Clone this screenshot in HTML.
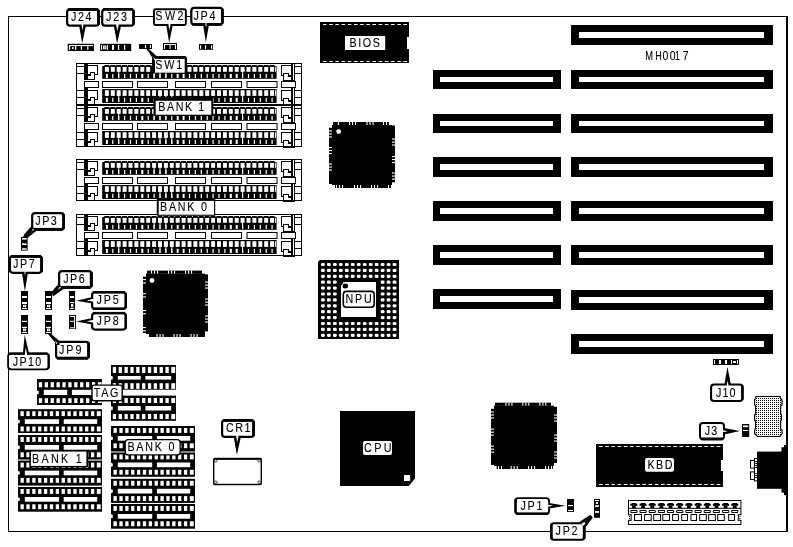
<!DOCTYPE html>
<html><head><meta charset="utf-8"><title>MH0017</title>
<style>
html,body{margin:0;padding:0;background:#fff;}
svg{display:block;filter:grayscale(1);}
text{font-family:"Liberation Sans",sans-serif;stroke:#000;stroke-width:0.1px;}
</style></head><body>
<svg width="793" height="547" viewBox="0 0 793 547">
<defs><pattern id="ht" x="0" y="0" width="2" height="2" patternUnits="userSpaceOnUse"><rect x="0" y="0" width="2" height="2" fill="#fff"/><rect x="0" y="0" width="1" height="1" fill="#000"/></pattern></defs>
<rect x="0" y="0" width="793" height="547" fill="#fff"/>
<rect x="8.5" y="16.5" width="779" height="515" rx="0" fill="none" stroke="#000" stroke-width="1"/>
<rect x="786" y="16" width="2" height="516" fill="#000" />
<rect x="571" y="25" width="202" height="20" fill="#000" />
<rect x="579" y="32" width="185" height="6" fill="#fff" />
<rect x="571" y="70" width="202" height="19" fill="#000" />
<rect x="579" y="77" width="185" height="5" fill="#fff" />
<rect x="571" y="114" width="202" height="19" fill="#000" />
<rect x="579" y="121" width="185" height="5" fill="#fff" />
<rect x="571" y="157" width="202" height="20" fill="#000" />
<rect x="579" y="164" width="185" height="6" fill="#fff" />
<rect x="571" y="201" width="202" height="20" fill="#000" />
<rect x="579" y="208" width="185" height="6" fill="#fff" />
<rect x="571" y="245" width="202" height="20" fill="#000" />
<rect x="579" y="252" width="185" height="6" fill="#fff" />
<rect x="571" y="290" width="202" height="20" fill="#000" />
<rect x="579" y="297" width="185" height="6" fill="#fff" />
<rect x="571" y="334" width="202" height="20" fill="#000" />
<rect x="579" y="341" width="185" height="6" fill="#fff" />
<rect x="433" y="70" width="128" height="19" fill="#000" />
<rect x="440" y="77" width="113" height="5" fill="#fff" />
<rect x="433" y="114" width="128" height="19" fill="#000" />
<rect x="440" y="121" width="113" height="5" fill="#fff" />
<rect x="433" y="157" width="128" height="20" fill="#000" />
<rect x="440" y="164" width="113" height="6" fill="#fff" />
<rect x="433" y="201" width="128" height="20" fill="#000" />
<rect x="440" y="208" width="113" height="6" fill="#fff" />
<rect x="433" y="245" width="128" height="20" fill="#000" />
<rect x="440" y="252" width="113" height="6" fill="#fff" />
<rect x="433" y="289" width="128" height="20" fill="#000" />
<rect x="440" y="296" width="113" height="6" fill="#fff" />
<rect x="76" y="63" width="226" height="1" fill="#000" />
<rect x="76" y="104" width="226" height="1" fill="#000" />
<rect x="76" y="63" width="1" height="42" fill="#000" />
<rect x="301" y="63" width="1" height="42" fill="#000" />
<rect x="76" y="66" width="8" height="1" fill="#000" />
<rect x="76" y="73" width="8" height="1" fill="#000" />
<rect x="76" y="90" width="8" height="1" fill="#000" />
<rect x="76" y="97" width="8" height="1" fill="#000" />
<rect x="84" y="63" width="4" height="17" fill="#000" />
<rect x="84" y="88" width="4" height="16" fill="#000" />
<rect x="291" y="63" width="2" height="41" fill="#000" />
<rect x="294" y="63" width="1" height="41" fill="#000" />
<rect x="293" y="64" width="1" height="1" fill="#fff" />
<rect x="294" y="66" width="8" height="1" fill="#000" />
<rect x="294" y="73" width="8" height="1" fill="#000" />
<rect x="294" y="90" width="8" height="1" fill="#000" />
<rect x="294" y="97" width="8" height="1" fill="#000" />
<rect x="102.2" y="66" width="174.4" height="12.8" fill="#000" />
<rect x="104.9" y="66.9" width="4" height="4.9" fill="#fff" />
<rect x="105.9" y="73.9" width="2" height="4.1" fill="#fff" />
<rect x="104.3" y="65" width="5.1" height="1" fill="#000" />
<rect x="110.8" y="66.9" width="4" height="4.9" fill="#fff" />
<rect x="112.2" y="73.9" width="1.2" height="4.1" fill="#fff" />
<rect x="110.2" y="65" width="5.1" height="1" fill="#000" />
<rect x="116.7" y="66.9" width="4" height="4.9" fill="#fff" />
<rect x="118.1" y="73.9" width="1.2" height="4.1" fill="#fff" />
<rect x="118.2" y="70.8" width="1" height="7.2" fill="#fff" />
<rect x="116.1" y="65" width="5.1" height="1" fill="#000" />
<rect x="122.6" y="66.9" width="4" height="4.9" fill="#fff" />
<rect x="124" y="73.9" width="1.2" height="4.1" fill="#fff" />
<rect x="122" y="65" width="5.1" height="1" fill="#000" />
<rect x="128.5" y="66.9" width="4" height="4.9" fill="#fff" />
<rect x="129.9" y="73.9" width="1.2" height="4.1" fill="#fff" />
<rect x="127.9" y="65" width="5.1" height="1" fill="#000" />
<rect x="134.4" y="66.9" width="4" height="4.9" fill="#fff" />
<rect x="135.8" y="73.9" width="1.2" height="4.1" fill="#fff" />
<rect x="133.8" y="65" width="5.1" height="1" fill="#000" />
<rect x="140.3" y="66.9" width="4" height="4.9" fill="#fff" />
<rect x="141.3" y="73.9" width="2" height="4.1" fill="#fff" />
<rect x="139.7" y="65" width="5.1" height="1" fill="#000" />
<rect x="146.2" y="66.9" width="4" height="4.9" fill="#fff" />
<rect x="147.6" y="73.9" width="1.2" height="4.1" fill="#fff" />
<rect x="145.6" y="65" width="5.1" height="1" fill="#000" />
<rect x="152.1" y="66.9" width="4" height="4.9" fill="#fff" />
<rect x="153.5" y="73.9" width="1.2" height="4.1" fill="#fff" />
<rect x="153.6" y="70.8" width="1" height="7.2" fill="#fff" />
<rect x="151.5" y="65" width="5.1" height="1" fill="#000" />
<rect x="158" y="66.9" width="4" height="4.9" fill="#fff" />
<rect x="159.4" y="73.9" width="1.2" height="4.1" fill="#fff" />
<rect x="159.5" y="70.8" width="1" height="7.2" fill="#fff" />
<rect x="157.4" y="65" width="5.1" height="1" fill="#000" />
<rect x="163.9" y="66.9" width="4" height="4.9" fill="#fff" />
<rect x="165.3" y="73.9" width="1.2" height="4.1" fill="#fff" />
<rect x="165.4" y="70.8" width="1" height="7.2" fill="#fff" />
<rect x="163.3" y="65" width="5.1" height="1" fill="#000" />
<rect x="169.8" y="66.9" width="4" height="4.9" fill="#fff" />
<rect x="171.2" y="73.9" width="1.2" height="4.1" fill="#fff" />
<rect x="169.2" y="65" width="5.1" height="1" fill="#000" />
<rect x="175.7" y="66.9" width="4" height="4.9" fill="#fff" />
<rect x="176.7" y="73.9" width="2" height="4.1" fill="#fff" />
<rect x="175.1" y="65" width="5.1" height="1" fill="#000" />
<rect x="181.6" y="66.9" width="4" height="4.9" fill="#fff" />
<rect x="182.6" y="73.9" width="2" height="4.1" fill="#fff" />
<rect x="181" y="65" width="5.1" height="1" fill="#000" />
<rect x="187.5" y="66.9" width="4" height="4.9" fill="#fff" />
<rect x="188.9" y="73.9" width="1.2" height="4.1" fill="#fff" />
<rect x="186.9" y="65" width="5.1" height="1" fill="#000" />
<rect x="193.4" y="66.9" width="4" height="4.9" fill="#fff" />
<rect x="194.8" y="73.9" width="1.2" height="4.1" fill="#fff" />
<rect x="192.8" y="65" width="5.1" height="1" fill="#000" />
<rect x="199.3" y="66.9" width="4" height="4.9" fill="#fff" />
<rect x="200.7" y="73.9" width="1.2" height="4.1" fill="#fff" />
<rect x="198.7" y="65" width="5.1" height="1" fill="#000" />
<rect x="205.2" y="66.9" width="4" height="4.9" fill="#fff" />
<rect x="206.6" y="73.9" width="1.2" height="4.1" fill="#fff" />
<rect x="204.6" y="65" width="5.1" height="1" fill="#000" />
<rect x="211.1" y="66.9" width="4" height="4.9" fill="#fff" />
<rect x="212.5" y="73.9" width="1.2" height="4.1" fill="#fff" />
<rect x="210.5" y="65" width="5.1" height="1" fill="#000" />
<rect x="217" y="66.9" width="4" height="4.9" fill="#fff" />
<rect x="218.4" y="73.9" width="1.2" height="4.1" fill="#fff" />
<rect x="216.4" y="65" width="5.1" height="1" fill="#000" />
<rect x="222.9" y="66.9" width="4" height="4.9" fill="#fff" />
<rect x="224.3" y="73.9" width="1.2" height="4.1" fill="#fff" />
<rect x="222.3" y="65" width="5.1" height="1" fill="#000" />
<rect x="228.8" y="66.9" width="4" height="4.9" fill="#fff" />
<rect x="229.8" y="73.9" width="2" height="4.1" fill="#fff" />
<rect x="228.2" y="65" width="5.1" height="1" fill="#000" />
<rect x="234.7" y="66.9" width="4" height="4.9" fill="#fff" />
<rect x="235.7" y="73.9" width="2" height="4.1" fill="#fff" />
<rect x="234.1" y="65" width="5.1" height="1" fill="#000" />
<rect x="240.6" y="66.9" width="4" height="4.9" fill="#fff" />
<rect x="242" y="73.9" width="1.2" height="4.1" fill="#fff" />
<rect x="242.1" y="70.8" width="1" height="7.2" fill="#fff" />
<rect x="240" y="65" width="5.1" height="1" fill="#000" />
<rect x="246.5" y="66.9" width="4" height="4.9" fill="#fff" />
<rect x="247.9" y="73.9" width="1.2" height="4.1" fill="#fff" />
<rect x="245.9" y="65" width="5.1" height="1" fill="#000" />
<rect x="252.4" y="66.9" width="4" height="4.9" fill="#fff" />
<rect x="253.8" y="73.9" width="1.2" height="4.1" fill="#fff" />
<rect x="251.8" y="65" width="5.1" height="1" fill="#000" />
<rect x="258.3" y="66.9" width="4" height="4.9" fill="#fff" />
<rect x="259.7" y="73.9" width="1.2" height="4.1" fill="#fff" />
<rect x="257.7" y="65" width="5.1" height="1" fill="#000" />
<rect x="264.2" y="66.9" width="4" height="4.9" fill="#fff" />
<rect x="265.6" y="73.9" width="1.2" height="4.1" fill="#fff" />
<rect x="263.6" y="65" width="5.1" height="1" fill="#000" />
<rect x="270.1" y="66.9" width="4" height="4.9" fill="#fff" />
<rect x="271.5" y="73.9" width="1.2" height="4.1" fill="#fff" />
<rect x="269.5" y="65" width="5.1" height="1" fill="#000" />
<rect x="275.1" y="66.9" width="1" height="4.9" fill="#fff" />
<rect x="102.2" y="89" width="174.4" height="14" fill="#000" />
<rect x="104.9" y="90.2" width="4" height="5.7" fill="#fff" />
<rect x="105.9" y="97.8" width="2" height="4.2" fill="#fff" />
<rect x="110.8" y="90.2" width="4" height="5.7" fill="#fff" />
<rect x="112.2" y="97.8" width="1.2" height="4.2" fill="#fff" />
<rect x="116.7" y="90.2" width="4" height="5.7" fill="#fff" />
<rect x="118.1" y="97.8" width="1.2" height="4.2" fill="#fff" />
<rect x="118.2" y="94.9" width="1" height="7.1" fill="#fff" />
<rect x="122.6" y="90.2" width="4" height="5.7" fill="#fff" />
<rect x="124" y="97.8" width="1.2" height="4.2" fill="#fff" />
<rect x="128.5" y="90.2" width="4" height="5.7" fill="#fff" />
<rect x="129.9" y="97.8" width="1.2" height="4.2" fill="#fff" />
<rect x="134.4" y="90.2" width="4" height="5.7" fill="#fff" />
<rect x="135.8" y="97.8" width="1.2" height="4.2" fill="#fff" />
<rect x="140.3" y="90.2" width="4" height="5.7" fill="#fff" />
<rect x="141.3" y="97.8" width="2" height="4.2" fill="#fff" />
<rect x="146.2" y="90.2" width="4" height="5.7" fill="#fff" />
<rect x="147.6" y="97.8" width="1.2" height="4.2" fill="#fff" />
<rect x="152.1" y="90.2" width="4" height="5.7" fill="#fff" />
<rect x="153.5" y="97.8" width="1.2" height="4.2" fill="#fff" />
<rect x="158" y="90.2" width="4" height="5.7" fill="#fff" />
<rect x="159.4" y="97.8" width="1.2" height="4.2" fill="#fff" />
<rect x="159.5" y="94.9" width="1" height="7.1" fill="#fff" />
<rect x="163.9" y="90.2" width="4" height="5.7" fill="#fff" />
<rect x="165.3" y="97.8" width="1.2" height="4.2" fill="#fff" />
<rect x="165.4" y="94.9" width="1" height="7.1" fill="#fff" />
<rect x="169.8" y="90.2" width="4" height="5.7" fill="#fff" />
<rect x="171.2" y="97.8" width="1.2" height="4.2" fill="#fff" />
<rect x="171.3" y="94.9" width="1" height="7.1" fill="#fff" />
<rect x="175.7" y="90.2" width="4" height="5.7" fill="#fff" />
<rect x="176.7" y="97.8" width="2" height="4.2" fill="#fff" />
<rect x="181.6" y="90.2" width="4" height="5.7" fill="#fff" />
<rect x="182.6" y="97.8" width="2" height="4.2" fill="#fff" />
<rect x="187.5" y="90.2" width="4" height="5.7" fill="#fff" />
<rect x="188.9" y="97.8" width="1.2" height="4.2" fill="#fff" />
<rect x="193.4" y="90.2" width="4" height="5.7" fill="#fff" />
<rect x="194.8" y="97.8" width="1.2" height="4.2" fill="#fff" />
<rect x="199.3" y="90.2" width="4" height="5.7" fill="#fff" />
<rect x="200.7" y="97.8" width="1.2" height="4.2" fill="#fff" />
<rect x="205.2" y="90.2" width="4" height="5.7" fill="#fff" />
<rect x="206.6" y="97.8" width="1.2" height="4.2" fill="#fff" />
<rect x="211.1" y="90.2" width="4" height="5.7" fill="#fff" />
<rect x="212.5" y="97.8" width="1.2" height="4.2" fill="#fff" />
<rect x="217" y="90.2" width="4" height="5.7" fill="#fff" />
<rect x="218.4" y="97.8" width="1.2" height="4.2" fill="#fff" />
<rect x="222.9" y="90.2" width="4" height="5.7" fill="#fff" />
<rect x="224.3" y="97.8" width="1.2" height="4.2" fill="#fff" />
<rect x="228.8" y="90.2" width="4" height="5.7" fill="#fff" />
<rect x="229.8" y="97.8" width="2" height="4.2" fill="#fff" />
<rect x="234.7" y="90.2" width="4" height="5.7" fill="#fff" />
<rect x="235.7" y="97.8" width="2" height="4.2" fill="#fff" />
<rect x="240.6" y="90.2" width="4" height="5.7" fill="#fff" />
<rect x="242" y="97.8" width="1.2" height="4.2" fill="#fff" />
<rect x="242.1" y="94.9" width="1" height="7.1" fill="#fff" />
<rect x="246.5" y="90.2" width="4" height="5.7" fill="#fff" />
<rect x="247.9" y="97.8" width="1.2" height="4.2" fill="#fff" />
<rect x="252.4" y="90.2" width="4" height="5.7" fill="#fff" />
<rect x="253.8" y="97.8" width="1.2" height="4.2" fill="#fff" />
<rect x="258.3" y="90.2" width="4" height="5.7" fill="#fff" />
<rect x="259.7" y="97.8" width="1.2" height="4.2" fill="#fff" />
<rect x="264.2" y="90.2" width="4" height="5.7" fill="#fff" />
<rect x="265.6" y="97.8" width="1.2" height="4.2" fill="#fff" />
<rect x="270.1" y="90.2" width="4" height="5.7" fill="#fff" />
<rect x="271.5" y="97.8" width="1.2" height="4.2" fill="#fff" />
<rect x="275.1" y="90.2" width="1" height="5.7" fill="#fff" />
<rect x="88" y="65" width="10" height="1" fill="#000" />
<rect x="97" y="65" width="1" height="10" fill="#000" />
<rect x="94" y="74" width="4" height="1" fill="#000" />
<rect x="94" y="72" width="1" height="8" fill="#000" />
<rect x="90" y="72" width="5" height="1" fill="#000" />
<rect x="90" y="72" width="1" height="3" fill="#000" />
<rect x="88" y="74" width="3" height="2" fill="#000" />
<rect x="84" y="79" width="11" height="1" fill="#000" />
<rect x="88" y="90" width="10" height="1" fill="#000" />
<rect x="97" y="90" width="1" height="10" fill="#000" />
<rect x="94" y="99" width="4" height="1" fill="#000" />
<rect x="94" y="97" width="1" height="8" fill="#000" />
<rect x="90" y="97" width="5" height="1" fill="#000" />
<rect x="90" y="97" width="1" height="3" fill="#000" />
<rect x="88" y="99" width="3" height="2" fill="#000" />
<rect x="84" y="104" width="11" height="1" fill="#000" />
<rect x="281" y="65" width="10" height="1" fill="#000" />
<rect x="281" y="65" width="1" height="11" fill="#000" />
<rect x="281" y="75" width="3" height="1" fill="#000" />
<rect x="283" y="73" width="1" height="8" fill="#000" />
<rect x="283" y="73" width="6" height="1" fill="#000" />
<rect x="288" y="73" width="1" height="3" fill="#000" />
<rect x="288" y="75" width="3" height="2" fill="#000" />
<rect x="283" y="80" width="12" height="1" fill="#000" />
<rect x="281" y="90" width="10" height="1" fill="#000" />
<rect x="281" y="90" width="1" height="11" fill="#000" />
<rect x="281" y="100" width="3" height="1" fill="#000" />
<rect x="283" y="98" width="1" height="8" fill="#000" />
<rect x="283" y="98" width="6" height="1" fill="#000" />
<rect x="288" y="98" width="1" height="3" fill="#000" />
<rect x="288" y="100" width="3" height="2" fill="#000" />
<rect x="283" y="105" width="12" height="1" fill="#000" />
<rect x="84.5" y="81.5" width="14" height="6" rx="0" fill="#fff" stroke="#000" stroke-width="1"/>
<rect x="281.5" y="81.5" width="14" height="6" rx="0" fill="#fff" stroke="#000" stroke-width="1"/>
<rect x="102.5" y="81.5" width="30" height="6" rx="0" fill="#fff" stroke="#000" stroke-width="1"/>
<rect x="137.5" y="81.5" width="30" height="6" rx="0" fill="#fff" stroke="#000" stroke-width="1"/>
<rect x="175.5" y="81.5" width="30" height="6" rx="0" fill="#fff" stroke="#000" stroke-width="1"/>
<rect x="211.5" y="81.5" width="30" height="6" rx="0" fill="#fff" stroke="#000" stroke-width="1"/>
<rect x="247" y="81.5" width="30" height="6" rx="0" fill="#fff" stroke="#000" stroke-width="1"/>
<rect x="76" y="105" width="226" height="1" fill="#000" />
<rect x="76" y="146" width="226" height="1" fill="#000" />
<rect x="76" y="105" width="1" height="42" fill="#000" />
<rect x="301" y="105" width="1" height="42" fill="#000" />
<rect x="76" y="108" width="8" height="1" fill="#000" />
<rect x="76" y="115" width="8" height="1" fill="#000" />
<rect x="76" y="132" width="8" height="1" fill="#000" />
<rect x="76" y="139" width="8" height="1" fill="#000" />
<rect x="84" y="105" width="4" height="17" fill="#000" />
<rect x="84" y="130" width="4" height="16" fill="#000" />
<rect x="291" y="105" width="2" height="41" fill="#000" />
<rect x="294" y="105" width="1" height="41" fill="#000" />
<rect x="293" y="106" width="1" height="1" fill="#fff" />
<rect x="294" y="108" width="8" height="1" fill="#000" />
<rect x="294" y="115" width="8" height="1" fill="#000" />
<rect x="294" y="132" width="8" height="1" fill="#000" />
<rect x="294" y="139" width="8" height="1" fill="#000" />
<rect x="102.2" y="108" width="174.4" height="12.8" fill="#000" />
<rect x="104.9" y="108.9" width="4" height="4.9" fill="#fff" />
<rect x="105.9" y="115.9" width="2" height="4.1" fill="#fff" />
<rect x="104.3" y="107" width="5.1" height="1" fill="#000" />
<rect x="110.8" y="108.9" width="4" height="4.9" fill="#fff" />
<rect x="112.2" y="115.9" width="1.2" height="4.1" fill="#fff" />
<rect x="110.2" y="107" width="5.1" height="1" fill="#000" />
<rect x="116.7" y="108.9" width="4" height="4.9" fill="#fff" />
<rect x="118.1" y="115.9" width="1.2" height="4.1" fill="#fff" />
<rect x="118.2" y="112.8" width="1" height="7.2" fill="#fff" />
<rect x="116.1" y="107" width="5.1" height="1" fill="#000" />
<rect x="122.6" y="108.9" width="4" height="4.9" fill="#fff" />
<rect x="124" y="115.9" width="1.2" height="4.1" fill="#fff" />
<rect x="122" y="107" width="5.1" height="1" fill="#000" />
<rect x="128.5" y="108.9" width="4" height="4.9" fill="#fff" />
<rect x="129.9" y="115.9" width="1.2" height="4.1" fill="#fff" />
<rect x="127.9" y="107" width="5.1" height="1" fill="#000" />
<rect x="134.4" y="108.9" width="4" height="4.9" fill="#fff" />
<rect x="135.8" y="115.9" width="1.2" height="4.1" fill="#fff" />
<rect x="133.8" y="107" width="5.1" height="1" fill="#000" />
<rect x="140.3" y="108.9" width="4" height="4.9" fill="#fff" />
<rect x="141.3" y="115.9" width="2" height="4.1" fill="#fff" />
<rect x="139.7" y="107" width="5.1" height="1" fill="#000" />
<rect x="146.2" y="108.9" width="4" height="4.9" fill="#fff" />
<rect x="147.6" y="115.9" width="1.2" height="4.1" fill="#fff" />
<rect x="145.6" y="107" width="5.1" height="1" fill="#000" />
<rect x="152.1" y="108.9" width="4" height="4.9" fill="#fff" />
<rect x="153.5" y="115.9" width="1.2" height="4.1" fill="#fff" />
<rect x="153.6" y="112.8" width="1" height="7.2" fill="#fff" />
<rect x="151.5" y="107" width="5.1" height="1" fill="#000" />
<rect x="158" y="108.9" width="4" height="4.9" fill="#fff" />
<rect x="159.4" y="115.9" width="1.2" height="4.1" fill="#fff" />
<rect x="159.5" y="112.8" width="1" height="7.2" fill="#fff" />
<rect x="157.4" y="107" width="5.1" height="1" fill="#000" />
<rect x="163.9" y="108.9" width="4" height="4.9" fill="#fff" />
<rect x="165.3" y="115.9" width="1.2" height="4.1" fill="#fff" />
<rect x="165.4" y="112.8" width="1" height="7.2" fill="#fff" />
<rect x="163.3" y="107" width="5.1" height="1" fill="#000" />
<rect x="169.8" y="108.9" width="4" height="4.9" fill="#fff" />
<rect x="171.2" y="115.9" width="1.2" height="4.1" fill="#fff" />
<rect x="169.2" y="107" width="5.1" height="1" fill="#000" />
<rect x="175.7" y="108.9" width="4" height="4.9" fill="#fff" />
<rect x="176.7" y="115.9" width="2" height="4.1" fill="#fff" />
<rect x="175.1" y="107" width="5.1" height="1" fill="#000" />
<rect x="181.6" y="108.9" width="4" height="4.9" fill="#fff" />
<rect x="182.6" y="115.9" width="2" height="4.1" fill="#fff" />
<rect x="181" y="107" width="5.1" height="1" fill="#000" />
<rect x="187.5" y="108.9" width="4" height="4.9" fill="#fff" />
<rect x="188.9" y="115.9" width="1.2" height="4.1" fill="#fff" />
<rect x="186.9" y="107" width="5.1" height="1" fill="#000" />
<rect x="193.4" y="108.9" width="4" height="4.9" fill="#fff" />
<rect x="194.8" y="115.9" width="1.2" height="4.1" fill="#fff" />
<rect x="192.8" y="107" width="5.1" height="1" fill="#000" />
<rect x="199.3" y="108.9" width="4" height="4.9" fill="#fff" />
<rect x="200.7" y="115.9" width="1.2" height="4.1" fill="#fff" />
<rect x="198.7" y="107" width="5.1" height="1" fill="#000" />
<rect x="205.2" y="108.9" width="4" height="4.9" fill="#fff" />
<rect x="206.6" y="115.9" width="1.2" height="4.1" fill="#fff" />
<rect x="204.6" y="107" width="5.1" height="1" fill="#000" />
<rect x="211.1" y="108.9" width="4" height="4.9" fill="#fff" />
<rect x="212.5" y="115.9" width="1.2" height="4.1" fill="#fff" />
<rect x="210.5" y="107" width="5.1" height="1" fill="#000" />
<rect x="217" y="108.9" width="4" height="4.9" fill="#fff" />
<rect x="218.4" y="115.9" width="1.2" height="4.1" fill="#fff" />
<rect x="216.4" y="107" width="5.1" height="1" fill="#000" />
<rect x="222.9" y="108.9" width="4" height="4.9" fill="#fff" />
<rect x="224.3" y="115.9" width="1.2" height="4.1" fill="#fff" />
<rect x="222.3" y="107" width="5.1" height="1" fill="#000" />
<rect x="228.8" y="108.9" width="4" height="4.9" fill="#fff" />
<rect x="229.8" y="115.9" width="2" height="4.1" fill="#fff" />
<rect x="228.2" y="107" width="5.1" height="1" fill="#000" />
<rect x="234.7" y="108.9" width="4" height="4.9" fill="#fff" />
<rect x="235.7" y="115.9" width="2" height="4.1" fill="#fff" />
<rect x="234.1" y="107" width="5.1" height="1" fill="#000" />
<rect x="240.6" y="108.9" width="4" height="4.9" fill="#fff" />
<rect x="242" y="115.9" width="1.2" height="4.1" fill="#fff" />
<rect x="242.1" y="112.8" width="1" height="7.2" fill="#fff" />
<rect x="240" y="107" width="5.1" height="1" fill="#000" />
<rect x="246.5" y="108.9" width="4" height="4.9" fill="#fff" />
<rect x="247.9" y="115.9" width="1.2" height="4.1" fill="#fff" />
<rect x="245.9" y="107" width="5.1" height="1" fill="#000" />
<rect x="252.4" y="108.9" width="4" height="4.9" fill="#fff" />
<rect x="253.8" y="115.9" width="1.2" height="4.1" fill="#fff" />
<rect x="251.8" y="107" width="5.1" height="1" fill="#000" />
<rect x="258.3" y="108.9" width="4" height="4.9" fill="#fff" />
<rect x="259.7" y="115.9" width="1.2" height="4.1" fill="#fff" />
<rect x="257.7" y="107" width="5.1" height="1" fill="#000" />
<rect x="264.2" y="108.9" width="4" height="4.9" fill="#fff" />
<rect x="265.6" y="115.9" width="1.2" height="4.1" fill="#fff" />
<rect x="263.6" y="107" width="5.1" height="1" fill="#000" />
<rect x="270.1" y="108.9" width="4" height="4.9" fill="#fff" />
<rect x="271.5" y="115.9" width="1.2" height="4.1" fill="#fff" />
<rect x="269.5" y="107" width="5.1" height="1" fill="#000" />
<rect x="275.1" y="108.9" width="1" height="4.9" fill="#fff" />
<rect x="102.2" y="131" width="174.4" height="14" fill="#000" />
<rect x="104.9" y="132.2" width="4" height="5.7" fill="#fff" />
<rect x="105.9" y="139.8" width="2" height="4.2" fill="#fff" />
<rect x="110.8" y="132.2" width="4" height="5.7" fill="#fff" />
<rect x="112.2" y="139.8" width="1.2" height="4.2" fill="#fff" />
<rect x="116.7" y="132.2" width="4" height="5.7" fill="#fff" />
<rect x="118.1" y="139.8" width="1.2" height="4.2" fill="#fff" />
<rect x="118.2" y="136.9" width="1" height="7.1" fill="#fff" />
<rect x="122.6" y="132.2" width="4" height="5.7" fill="#fff" />
<rect x="124" y="139.8" width="1.2" height="4.2" fill="#fff" />
<rect x="128.5" y="132.2" width="4" height="5.7" fill="#fff" />
<rect x="129.9" y="139.8" width="1.2" height="4.2" fill="#fff" />
<rect x="134.4" y="132.2" width="4" height="5.7" fill="#fff" />
<rect x="135.8" y="139.8" width="1.2" height="4.2" fill="#fff" />
<rect x="140.3" y="132.2" width="4" height="5.7" fill="#fff" />
<rect x="141.3" y="139.8" width="2" height="4.2" fill="#fff" />
<rect x="146.2" y="132.2" width="4" height="5.7" fill="#fff" />
<rect x="147.6" y="139.8" width="1.2" height="4.2" fill="#fff" />
<rect x="152.1" y="132.2" width="4" height="5.7" fill="#fff" />
<rect x="153.5" y="139.8" width="1.2" height="4.2" fill="#fff" />
<rect x="158" y="132.2" width="4" height="5.7" fill="#fff" />
<rect x="159.4" y="139.8" width="1.2" height="4.2" fill="#fff" />
<rect x="159.5" y="136.9" width="1" height="7.1" fill="#fff" />
<rect x="163.9" y="132.2" width="4" height="5.7" fill="#fff" />
<rect x="165.3" y="139.8" width="1.2" height="4.2" fill="#fff" />
<rect x="165.4" y="136.9" width="1" height="7.1" fill="#fff" />
<rect x="169.8" y="132.2" width="4" height="5.7" fill="#fff" />
<rect x="171.2" y="139.8" width="1.2" height="4.2" fill="#fff" />
<rect x="171.3" y="136.9" width="1" height="7.1" fill="#fff" />
<rect x="175.7" y="132.2" width="4" height="5.7" fill="#fff" />
<rect x="176.7" y="139.8" width="2" height="4.2" fill="#fff" />
<rect x="181.6" y="132.2" width="4" height="5.7" fill="#fff" />
<rect x="182.6" y="139.8" width="2" height="4.2" fill="#fff" />
<rect x="187.5" y="132.2" width="4" height="5.7" fill="#fff" />
<rect x="188.9" y="139.8" width="1.2" height="4.2" fill="#fff" />
<rect x="193.4" y="132.2" width="4" height="5.7" fill="#fff" />
<rect x="194.8" y="139.8" width="1.2" height="4.2" fill="#fff" />
<rect x="199.3" y="132.2" width="4" height="5.7" fill="#fff" />
<rect x="200.7" y="139.8" width="1.2" height="4.2" fill="#fff" />
<rect x="205.2" y="132.2" width="4" height="5.7" fill="#fff" />
<rect x="206.6" y="139.8" width="1.2" height="4.2" fill="#fff" />
<rect x="211.1" y="132.2" width="4" height="5.7" fill="#fff" />
<rect x="212.5" y="139.8" width="1.2" height="4.2" fill="#fff" />
<rect x="217" y="132.2" width="4" height="5.7" fill="#fff" />
<rect x="218.4" y="139.8" width="1.2" height="4.2" fill="#fff" />
<rect x="222.9" y="132.2" width="4" height="5.7" fill="#fff" />
<rect x="224.3" y="139.8" width="1.2" height="4.2" fill="#fff" />
<rect x="228.8" y="132.2" width="4" height="5.7" fill="#fff" />
<rect x="229.8" y="139.8" width="2" height="4.2" fill="#fff" />
<rect x="234.7" y="132.2" width="4" height="5.7" fill="#fff" />
<rect x="235.7" y="139.8" width="2" height="4.2" fill="#fff" />
<rect x="240.6" y="132.2" width="4" height="5.7" fill="#fff" />
<rect x="242" y="139.8" width="1.2" height="4.2" fill="#fff" />
<rect x="242.1" y="136.9" width="1" height="7.1" fill="#fff" />
<rect x="246.5" y="132.2" width="4" height="5.7" fill="#fff" />
<rect x="247.9" y="139.8" width="1.2" height="4.2" fill="#fff" />
<rect x="252.4" y="132.2" width="4" height="5.7" fill="#fff" />
<rect x="253.8" y="139.8" width="1.2" height="4.2" fill="#fff" />
<rect x="258.3" y="132.2" width="4" height="5.7" fill="#fff" />
<rect x="259.7" y="139.8" width="1.2" height="4.2" fill="#fff" />
<rect x="264.2" y="132.2" width="4" height="5.7" fill="#fff" />
<rect x="265.6" y="139.8" width="1.2" height="4.2" fill="#fff" />
<rect x="270.1" y="132.2" width="4" height="5.7" fill="#fff" />
<rect x="271.5" y="139.8" width="1.2" height="4.2" fill="#fff" />
<rect x="275.1" y="132.2" width="1" height="5.7" fill="#fff" />
<rect x="88" y="107" width="10" height="1" fill="#000" />
<rect x="97" y="107" width="1" height="10" fill="#000" />
<rect x="94" y="116" width="4" height="1" fill="#000" />
<rect x="94" y="114" width="1" height="8" fill="#000" />
<rect x="90" y="114" width="5" height="1" fill="#000" />
<rect x="90" y="114" width="1" height="3" fill="#000" />
<rect x="88" y="116" width="3" height="2" fill="#000" />
<rect x="84" y="121" width="11" height="1" fill="#000" />
<rect x="88" y="132" width="10" height="1" fill="#000" />
<rect x="97" y="132" width="1" height="10" fill="#000" />
<rect x="94" y="141" width="4" height="1" fill="#000" />
<rect x="94" y="139" width="1" height="8" fill="#000" />
<rect x="90" y="139" width="5" height="1" fill="#000" />
<rect x="90" y="139" width="1" height="3" fill="#000" />
<rect x="88" y="141" width="3" height="2" fill="#000" />
<rect x="84" y="146" width="11" height="1" fill="#000" />
<rect x="281" y="107" width="10" height="1" fill="#000" />
<rect x="281" y="107" width="1" height="11" fill="#000" />
<rect x="281" y="117" width="3" height="1" fill="#000" />
<rect x="283" y="115" width="1" height="8" fill="#000" />
<rect x="283" y="115" width="6" height="1" fill="#000" />
<rect x="288" y="115" width="1" height="3" fill="#000" />
<rect x="288" y="117" width="3" height="2" fill="#000" />
<rect x="283" y="122" width="12" height="1" fill="#000" />
<rect x="281" y="132" width="10" height="1" fill="#000" />
<rect x="281" y="132" width="1" height="11" fill="#000" />
<rect x="281" y="142" width="3" height="1" fill="#000" />
<rect x="283" y="140" width="1" height="8" fill="#000" />
<rect x="283" y="140" width="6" height="1" fill="#000" />
<rect x="288" y="140" width="1" height="3" fill="#000" />
<rect x="288" y="142" width="3" height="2" fill="#000" />
<rect x="283" y="147" width="12" height="1" fill="#000" />
<rect x="84.5" y="123.5" width="14" height="6" rx="0" fill="#fff" stroke="#000" stroke-width="1"/>
<rect x="281.5" y="123.5" width="14" height="6" rx="0" fill="#fff" stroke="#000" stroke-width="1"/>
<rect x="102.5" y="123.5" width="30" height="6" rx="0" fill="#fff" stroke="#000" stroke-width="1"/>
<rect x="137.5" y="123.5" width="30" height="6" rx="0" fill="#fff" stroke="#000" stroke-width="1"/>
<rect x="175.5" y="123.5" width="30" height="6" rx="0" fill="#fff" stroke="#000" stroke-width="1"/>
<rect x="211.5" y="123.5" width="30" height="6" rx="0" fill="#fff" stroke="#000" stroke-width="1"/>
<rect x="247" y="123.5" width="30" height="6" rx="0" fill="#fff" stroke="#000" stroke-width="1"/>
<rect x="76" y="159" width="226" height="1" fill="#000" />
<rect x="76" y="200" width="226" height="1" fill="#000" />
<rect x="76" y="159" width="1" height="42" fill="#000" />
<rect x="301" y="159" width="1" height="42" fill="#000" />
<rect x="76" y="162" width="8" height="1" fill="#000" />
<rect x="76" y="169" width="8" height="1" fill="#000" />
<rect x="76" y="186" width="8" height="1" fill="#000" />
<rect x="76" y="193" width="8" height="1" fill="#000" />
<rect x="84" y="159" width="4" height="17" fill="#000" />
<rect x="84" y="184" width="4" height="16" fill="#000" />
<rect x="291" y="159" width="2" height="41" fill="#000" />
<rect x="294" y="159" width="1" height="41" fill="#000" />
<rect x="293" y="160" width="1" height="1" fill="#fff" />
<rect x="294" y="162" width="8" height="1" fill="#000" />
<rect x="294" y="169" width="8" height="1" fill="#000" />
<rect x="294" y="186" width="8" height="1" fill="#000" />
<rect x="294" y="193" width="8" height="1" fill="#000" />
<rect x="102.2" y="162" width="174.4" height="12.8" fill="#000" />
<rect x="104.9" y="162.9" width="4" height="4.9" fill="#fff" />
<rect x="105.9" y="169.9" width="2" height="4.1" fill="#fff" />
<rect x="104.3" y="161" width="5.1" height="1" fill="#000" />
<rect x="110.8" y="162.9" width="4" height="4.9" fill="#fff" />
<rect x="112.2" y="169.9" width="1.2" height="4.1" fill="#fff" />
<rect x="110.2" y="161" width="5.1" height="1" fill="#000" />
<rect x="116.7" y="162.9" width="4" height="4.9" fill="#fff" />
<rect x="118.1" y="169.9" width="1.2" height="4.1" fill="#fff" />
<rect x="118.2" y="166.8" width="1" height="7.2" fill="#fff" />
<rect x="116.1" y="161" width="5.1" height="1" fill="#000" />
<rect x="122.6" y="162.9" width="4" height="4.9" fill="#fff" />
<rect x="124" y="169.9" width="1.2" height="4.1" fill="#fff" />
<rect x="122" y="161" width="5.1" height="1" fill="#000" />
<rect x="128.5" y="162.9" width="4" height="4.9" fill="#fff" />
<rect x="129.9" y="169.9" width="1.2" height="4.1" fill="#fff" />
<rect x="127.9" y="161" width="5.1" height="1" fill="#000" />
<rect x="134.4" y="162.9" width="4" height="4.9" fill="#fff" />
<rect x="135.8" y="169.9" width="1.2" height="4.1" fill="#fff" />
<rect x="133.8" y="161" width="5.1" height="1" fill="#000" />
<rect x="140.3" y="162.9" width="4" height="4.9" fill="#fff" />
<rect x="141.3" y="169.9" width="2" height="4.1" fill="#fff" />
<rect x="139.7" y="161" width="5.1" height="1" fill="#000" />
<rect x="146.2" y="162.9" width="4" height="4.9" fill="#fff" />
<rect x="147.6" y="169.9" width="1.2" height="4.1" fill="#fff" />
<rect x="145.6" y="161" width="5.1" height="1" fill="#000" />
<rect x="152.1" y="162.9" width="4" height="4.9" fill="#fff" />
<rect x="153.5" y="169.9" width="1.2" height="4.1" fill="#fff" />
<rect x="153.6" y="166.8" width="1" height="7.2" fill="#fff" />
<rect x="151.5" y="161" width="5.1" height="1" fill="#000" />
<rect x="158" y="162.9" width="4" height="4.9" fill="#fff" />
<rect x="159.4" y="169.9" width="1.2" height="4.1" fill="#fff" />
<rect x="159.5" y="166.8" width="1" height="7.2" fill="#fff" />
<rect x="157.4" y="161" width="5.1" height="1" fill="#000" />
<rect x="163.9" y="162.9" width="4" height="4.9" fill="#fff" />
<rect x="165.3" y="169.9" width="1.2" height="4.1" fill="#fff" />
<rect x="165.4" y="166.8" width="1" height="7.2" fill="#fff" />
<rect x="163.3" y="161" width="5.1" height="1" fill="#000" />
<rect x="169.8" y="162.9" width="4" height="4.9" fill="#fff" />
<rect x="171.2" y="169.9" width="1.2" height="4.1" fill="#fff" />
<rect x="169.2" y="161" width="5.1" height="1" fill="#000" />
<rect x="175.7" y="162.9" width="4" height="4.9" fill="#fff" />
<rect x="176.7" y="169.9" width="2" height="4.1" fill="#fff" />
<rect x="175.1" y="161" width="5.1" height="1" fill="#000" />
<rect x="181.6" y="162.9" width="4" height="4.9" fill="#fff" />
<rect x="182.6" y="169.9" width="2" height="4.1" fill="#fff" />
<rect x="181" y="161" width="5.1" height="1" fill="#000" />
<rect x="187.5" y="162.9" width="4" height="4.9" fill="#fff" />
<rect x="188.9" y="169.9" width="1.2" height="4.1" fill="#fff" />
<rect x="186.9" y="161" width="5.1" height="1" fill="#000" />
<rect x="193.4" y="162.9" width="4" height="4.9" fill="#fff" />
<rect x="194.8" y="169.9" width="1.2" height="4.1" fill="#fff" />
<rect x="192.8" y="161" width="5.1" height="1" fill="#000" />
<rect x="199.3" y="162.9" width="4" height="4.9" fill="#fff" />
<rect x="200.7" y="169.9" width="1.2" height="4.1" fill="#fff" />
<rect x="198.7" y="161" width="5.1" height="1" fill="#000" />
<rect x="205.2" y="162.9" width="4" height="4.9" fill="#fff" />
<rect x="206.6" y="169.9" width="1.2" height="4.1" fill="#fff" />
<rect x="204.6" y="161" width="5.1" height="1" fill="#000" />
<rect x="211.1" y="162.9" width="4" height="4.9" fill="#fff" />
<rect x="212.5" y="169.9" width="1.2" height="4.1" fill="#fff" />
<rect x="210.5" y="161" width="5.1" height="1" fill="#000" />
<rect x="217" y="162.9" width="4" height="4.9" fill="#fff" />
<rect x="218.4" y="169.9" width="1.2" height="4.1" fill="#fff" />
<rect x="216.4" y="161" width="5.1" height="1" fill="#000" />
<rect x="222.9" y="162.9" width="4" height="4.9" fill="#fff" />
<rect x="224.3" y="169.9" width="1.2" height="4.1" fill="#fff" />
<rect x="222.3" y="161" width="5.1" height="1" fill="#000" />
<rect x="228.8" y="162.9" width="4" height="4.9" fill="#fff" />
<rect x="229.8" y="169.9" width="2" height="4.1" fill="#fff" />
<rect x="228.2" y="161" width="5.1" height="1" fill="#000" />
<rect x="234.7" y="162.9" width="4" height="4.9" fill="#fff" />
<rect x="235.7" y="169.9" width="2" height="4.1" fill="#fff" />
<rect x="234.1" y="161" width="5.1" height="1" fill="#000" />
<rect x="240.6" y="162.9" width="4" height="4.9" fill="#fff" />
<rect x="242" y="169.9" width="1.2" height="4.1" fill="#fff" />
<rect x="242.1" y="166.8" width="1" height="7.2" fill="#fff" />
<rect x="240" y="161" width="5.1" height="1" fill="#000" />
<rect x="246.5" y="162.9" width="4" height="4.9" fill="#fff" />
<rect x="247.9" y="169.9" width="1.2" height="4.1" fill="#fff" />
<rect x="245.9" y="161" width="5.1" height="1" fill="#000" />
<rect x="252.4" y="162.9" width="4" height="4.9" fill="#fff" />
<rect x="253.8" y="169.9" width="1.2" height="4.1" fill="#fff" />
<rect x="251.8" y="161" width="5.1" height="1" fill="#000" />
<rect x="258.3" y="162.9" width="4" height="4.9" fill="#fff" />
<rect x="259.7" y="169.9" width="1.2" height="4.1" fill="#fff" />
<rect x="257.7" y="161" width="5.1" height="1" fill="#000" />
<rect x="264.2" y="162.9" width="4" height="4.9" fill="#fff" />
<rect x="265.6" y="169.9" width="1.2" height="4.1" fill="#fff" />
<rect x="263.6" y="161" width="5.1" height="1" fill="#000" />
<rect x="270.1" y="162.9" width="4" height="4.9" fill="#fff" />
<rect x="271.5" y="169.9" width="1.2" height="4.1" fill="#fff" />
<rect x="269.5" y="161" width="5.1" height="1" fill="#000" />
<rect x="275.1" y="162.9" width="1" height="4.9" fill="#fff" />
<rect x="102.2" y="185" width="174.4" height="14" fill="#000" />
<rect x="104.9" y="186.2" width="4" height="5.7" fill="#fff" />
<rect x="105.9" y="193.8" width="2" height="4.2" fill="#fff" />
<rect x="110.8" y="186.2" width="4" height="5.7" fill="#fff" />
<rect x="112.2" y="193.8" width="1.2" height="4.2" fill="#fff" />
<rect x="116.7" y="186.2" width="4" height="5.7" fill="#fff" />
<rect x="118.1" y="193.8" width="1.2" height="4.2" fill="#fff" />
<rect x="118.2" y="190.9" width="1" height="7.1" fill="#fff" />
<rect x="122.6" y="186.2" width="4" height="5.7" fill="#fff" />
<rect x="124" y="193.8" width="1.2" height="4.2" fill="#fff" />
<rect x="128.5" y="186.2" width="4" height="5.7" fill="#fff" />
<rect x="129.9" y="193.8" width="1.2" height="4.2" fill="#fff" />
<rect x="134.4" y="186.2" width="4" height="5.7" fill="#fff" />
<rect x="135.8" y="193.8" width="1.2" height="4.2" fill="#fff" />
<rect x="140.3" y="186.2" width="4" height="5.7" fill="#fff" />
<rect x="141.3" y="193.8" width="2" height="4.2" fill="#fff" />
<rect x="146.2" y="186.2" width="4" height="5.7" fill="#fff" />
<rect x="147.6" y="193.8" width="1.2" height="4.2" fill="#fff" />
<rect x="152.1" y="186.2" width="4" height="5.7" fill="#fff" />
<rect x="153.5" y="193.8" width="1.2" height="4.2" fill="#fff" />
<rect x="158" y="186.2" width="4" height="5.7" fill="#fff" />
<rect x="159.4" y="193.8" width="1.2" height="4.2" fill="#fff" />
<rect x="159.5" y="190.9" width="1" height="7.1" fill="#fff" />
<rect x="163.9" y="186.2" width="4" height="5.7" fill="#fff" />
<rect x="165.3" y="193.8" width="1.2" height="4.2" fill="#fff" />
<rect x="165.4" y="190.9" width="1" height="7.1" fill="#fff" />
<rect x="169.8" y="186.2" width="4" height="5.7" fill="#fff" />
<rect x="171.2" y="193.8" width="1.2" height="4.2" fill="#fff" />
<rect x="171.3" y="190.9" width="1" height="7.1" fill="#fff" />
<rect x="175.7" y="186.2" width="4" height="5.7" fill="#fff" />
<rect x="176.7" y="193.8" width="2" height="4.2" fill="#fff" />
<rect x="181.6" y="186.2" width="4" height="5.7" fill="#fff" />
<rect x="182.6" y="193.8" width="2" height="4.2" fill="#fff" />
<rect x="187.5" y="186.2" width="4" height="5.7" fill="#fff" />
<rect x="188.9" y="193.8" width="1.2" height="4.2" fill="#fff" />
<rect x="193.4" y="186.2" width="4" height="5.7" fill="#fff" />
<rect x="194.8" y="193.8" width="1.2" height="4.2" fill="#fff" />
<rect x="199.3" y="186.2" width="4" height="5.7" fill="#fff" />
<rect x="200.7" y="193.8" width="1.2" height="4.2" fill="#fff" />
<rect x="205.2" y="186.2" width="4" height="5.7" fill="#fff" />
<rect x="206.6" y="193.8" width="1.2" height="4.2" fill="#fff" />
<rect x="211.1" y="186.2" width="4" height="5.7" fill="#fff" />
<rect x="212.5" y="193.8" width="1.2" height="4.2" fill="#fff" />
<rect x="217" y="186.2" width="4" height="5.7" fill="#fff" />
<rect x="218.4" y="193.8" width="1.2" height="4.2" fill="#fff" />
<rect x="222.9" y="186.2" width="4" height="5.7" fill="#fff" />
<rect x="224.3" y="193.8" width="1.2" height="4.2" fill="#fff" />
<rect x="228.8" y="186.2" width="4" height="5.7" fill="#fff" />
<rect x="229.8" y="193.8" width="2" height="4.2" fill="#fff" />
<rect x="234.7" y="186.2" width="4" height="5.7" fill="#fff" />
<rect x="235.7" y="193.8" width="2" height="4.2" fill="#fff" />
<rect x="240.6" y="186.2" width="4" height="5.7" fill="#fff" />
<rect x="242" y="193.8" width="1.2" height="4.2" fill="#fff" />
<rect x="242.1" y="190.9" width="1" height="7.1" fill="#fff" />
<rect x="246.5" y="186.2" width="4" height="5.7" fill="#fff" />
<rect x="247.9" y="193.8" width="1.2" height="4.2" fill="#fff" />
<rect x="252.4" y="186.2" width="4" height="5.7" fill="#fff" />
<rect x="253.8" y="193.8" width="1.2" height="4.2" fill="#fff" />
<rect x="258.3" y="186.2" width="4" height="5.7" fill="#fff" />
<rect x="259.7" y="193.8" width="1.2" height="4.2" fill="#fff" />
<rect x="264.2" y="186.2" width="4" height="5.7" fill="#fff" />
<rect x="265.6" y="193.8" width="1.2" height="4.2" fill="#fff" />
<rect x="270.1" y="186.2" width="4" height="5.7" fill="#fff" />
<rect x="271.5" y="193.8" width="1.2" height="4.2" fill="#fff" />
<rect x="275.1" y="186.2" width="1" height="5.7" fill="#fff" />
<rect x="88" y="161" width="10" height="1" fill="#000" />
<rect x="97" y="161" width="1" height="10" fill="#000" />
<rect x="94" y="170" width="4" height="1" fill="#000" />
<rect x="94" y="168" width="1" height="8" fill="#000" />
<rect x="90" y="168" width="5" height="1" fill="#000" />
<rect x="90" y="168" width="1" height="3" fill="#000" />
<rect x="88" y="170" width="3" height="2" fill="#000" />
<rect x="84" y="175" width="11" height="1" fill="#000" />
<rect x="88" y="186" width="10" height="1" fill="#000" />
<rect x="97" y="186" width="1" height="10" fill="#000" />
<rect x="94" y="195" width="4" height="1" fill="#000" />
<rect x="94" y="193" width="1" height="8" fill="#000" />
<rect x="90" y="193" width="5" height="1" fill="#000" />
<rect x="90" y="193" width="1" height="3" fill="#000" />
<rect x="88" y="195" width="3" height="2" fill="#000" />
<rect x="84" y="200" width="11" height="1" fill="#000" />
<rect x="281" y="161" width="10" height="1" fill="#000" />
<rect x="281" y="161" width="1" height="11" fill="#000" />
<rect x="281" y="171" width="3" height="1" fill="#000" />
<rect x="283" y="169" width="1" height="8" fill="#000" />
<rect x="283" y="169" width="6" height="1" fill="#000" />
<rect x="288" y="169" width="1" height="3" fill="#000" />
<rect x="288" y="171" width="3" height="2" fill="#000" />
<rect x="283" y="176" width="12" height="1" fill="#000" />
<rect x="281" y="186" width="10" height="1" fill="#000" />
<rect x="281" y="186" width="1" height="11" fill="#000" />
<rect x="281" y="196" width="3" height="1" fill="#000" />
<rect x="283" y="194" width="1" height="8" fill="#000" />
<rect x="283" y="194" width="6" height="1" fill="#000" />
<rect x="288" y="194" width="1" height="3" fill="#000" />
<rect x="288" y="196" width="3" height="2" fill="#000" />
<rect x="283" y="201" width="12" height="1" fill="#000" />
<rect x="84.5" y="177.5" width="14" height="6" rx="0" fill="#fff" stroke="#000" stroke-width="1"/>
<rect x="281.5" y="177.5" width="14" height="6" rx="0" fill="#fff" stroke="#000" stroke-width="1"/>
<rect x="102.5" y="177.5" width="30" height="6" rx="0" fill="#fff" stroke="#000" stroke-width="1"/>
<rect x="137.5" y="177.5" width="30" height="6" rx="0" fill="#fff" stroke="#000" stroke-width="1"/>
<rect x="175.5" y="177.5" width="30" height="6" rx="0" fill="#fff" stroke="#000" stroke-width="1"/>
<rect x="211.5" y="177.5" width="30" height="6" rx="0" fill="#fff" stroke="#000" stroke-width="1"/>
<rect x="247" y="177.5" width="30" height="6" rx="0" fill="#fff" stroke="#000" stroke-width="1"/>
<rect x="76" y="214" width="226" height="1" fill="#000" />
<rect x="76" y="255" width="226" height="1" fill="#000" />
<rect x="76" y="214" width="1" height="42" fill="#000" />
<rect x="301" y="214" width="1" height="42" fill="#000" />
<rect x="76" y="217" width="8" height="1" fill="#000" />
<rect x="76" y="224" width="8" height="1" fill="#000" />
<rect x="76" y="241" width="8" height="1" fill="#000" />
<rect x="76" y="248" width="8" height="1" fill="#000" />
<rect x="84" y="214" width="4" height="17" fill="#000" />
<rect x="84" y="239" width="4" height="16" fill="#000" />
<rect x="291" y="214" width="2" height="41" fill="#000" />
<rect x="294" y="214" width="1" height="41" fill="#000" />
<rect x="293" y="215" width="1" height="1" fill="#fff" />
<rect x="294" y="217" width="8" height="1" fill="#000" />
<rect x="294" y="224" width="8" height="1" fill="#000" />
<rect x="294" y="241" width="8" height="1" fill="#000" />
<rect x="294" y="248" width="8" height="1" fill="#000" />
<rect x="102.2" y="217" width="174.4" height="12.8" fill="#000" />
<rect x="104.9" y="217.9" width="4" height="4.9" fill="#fff" />
<rect x="105.9" y="224.9" width="2" height="4.1" fill="#fff" />
<rect x="104.3" y="216" width="5.1" height="1" fill="#000" />
<rect x="110.8" y="217.9" width="4" height="4.9" fill="#fff" />
<rect x="112.2" y="224.9" width="1.2" height="4.1" fill="#fff" />
<rect x="110.2" y="216" width="5.1" height="1" fill="#000" />
<rect x="116.7" y="217.9" width="4" height="4.9" fill="#fff" />
<rect x="118.1" y="224.9" width="1.2" height="4.1" fill="#fff" />
<rect x="118.2" y="221.8" width="1" height="7.2" fill="#fff" />
<rect x="116.1" y="216" width="5.1" height="1" fill="#000" />
<rect x="122.6" y="217.9" width="4" height="4.9" fill="#fff" />
<rect x="124" y="224.9" width="1.2" height="4.1" fill="#fff" />
<rect x="122" y="216" width="5.1" height="1" fill="#000" />
<rect x="128.5" y="217.9" width="4" height="4.9" fill="#fff" />
<rect x="129.9" y="224.9" width="1.2" height="4.1" fill="#fff" />
<rect x="127.9" y="216" width="5.1" height="1" fill="#000" />
<rect x="134.4" y="217.9" width="4" height="4.9" fill="#fff" />
<rect x="135.8" y="224.9" width="1.2" height="4.1" fill="#fff" />
<rect x="133.8" y="216" width="5.1" height="1" fill="#000" />
<rect x="140.3" y="217.9" width="4" height="4.9" fill="#fff" />
<rect x="141.3" y="224.9" width="2" height="4.1" fill="#fff" />
<rect x="139.7" y="216" width="5.1" height="1" fill="#000" />
<rect x="146.2" y="217.9" width="4" height="4.9" fill="#fff" />
<rect x="147.6" y="224.9" width="1.2" height="4.1" fill="#fff" />
<rect x="145.6" y="216" width="5.1" height="1" fill="#000" />
<rect x="152.1" y="217.9" width="4" height="4.9" fill="#fff" />
<rect x="153.5" y="224.9" width="1.2" height="4.1" fill="#fff" />
<rect x="153.6" y="221.8" width="1" height="7.2" fill="#fff" />
<rect x="151.5" y="216" width="5.1" height="1" fill="#000" />
<rect x="158" y="217.9" width="4" height="4.9" fill="#fff" />
<rect x="159.4" y="224.9" width="1.2" height="4.1" fill="#fff" />
<rect x="159.5" y="221.8" width="1" height="7.2" fill="#fff" />
<rect x="157.4" y="216" width="5.1" height="1" fill="#000" />
<rect x="163.9" y="217.9" width="4" height="4.9" fill="#fff" />
<rect x="165.3" y="224.9" width="1.2" height="4.1" fill="#fff" />
<rect x="165.4" y="221.8" width="1" height="7.2" fill="#fff" />
<rect x="163.3" y="216" width="5.1" height="1" fill="#000" />
<rect x="169.8" y="217.9" width="4" height="4.9" fill="#fff" />
<rect x="171.2" y="224.9" width="1.2" height="4.1" fill="#fff" />
<rect x="169.2" y="216" width="5.1" height="1" fill="#000" />
<rect x="175.7" y="217.9" width="4" height="4.9" fill="#fff" />
<rect x="176.7" y="224.9" width="2" height="4.1" fill="#fff" />
<rect x="175.1" y="216" width="5.1" height="1" fill="#000" />
<rect x="181.6" y="217.9" width="4" height="4.9" fill="#fff" />
<rect x="182.6" y="224.9" width="2" height="4.1" fill="#fff" />
<rect x="181" y="216" width="5.1" height="1" fill="#000" />
<rect x="187.5" y="217.9" width="4" height="4.9" fill="#fff" />
<rect x="188.9" y="224.9" width="1.2" height="4.1" fill="#fff" />
<rect x="186.9" y="216" width="5.1" height="1" fill="#000" />
<rect x="193.4" y="217.9" width="4" height="4.9" fill="#fff" />
<rect x="194.8" y="224.9" width="1.2" height="4.1" fill="#fff" />
<rect x="192.8" y="216" width="5.1" height="1" fill="#000" />
<rect x="199.3" y="217.9" width="4" height="4.9" fill="#fff" />
<rect x="200.7" y="224.9" width="1.2" height="4.1" fill="#fff" />
<rect x="198.7" y="216" width="5.1" height="1" fill="#000" />
<rect x="205.2" y="217.9" width="4" height="4.9" fill="#fff" />
<rect x="206.6" y="224.9" width="1.2" height="4.1" fill="#fff" />
<rect x="204.6" y="216" width="5.1" height="1" fill="#000" />
<rect x="211.1" y="217.9" width="4" height="4.9" fill="#fff" />
<rect x="212.5" y="224.9" width="1.2" height="4.1" fill="#fff" />
<rect x="210.5" y="216" width="5.1" height="1" fill="#000" />
<rect x="217" y="217.9" width="4" height="4.9" fill="#fff" />
<rect x="218.4" y="224.9" width="1.2" height="4.1" fill="#fff" />
<rect x="216.4" y="216" width="5.1" height="1" fill="#000" />
<rect x="222.9" y="217.9" width="4" height="4.9" fill="#fff" />
<rect x="224.3" y="224.9" width="1.2" height="4.1" fill="#fff" />
<rect x="222.3" y="216" width="5.1" height="1" fill="#000" />
<rect x="228.8" y="217.9" width="4" height="4.9" fill="#fff" />
<rect x="229.8" y="224.9" width="2" height="4.1" fill="#fff" />
<rect x="228.2" y="216" width="5.1" height="1" fill="#000" />
<rect x="234.7" y="217.9" width="4" height="4.9" fill="#fff" />
<rect x="235.7" y="224.9" width="2" height="4.1" fill="#fff" />
<rect x="234.1" y="216" width="5.1" height="1" fill="#000" />
<rect x="240.6" y="217.9" width="4" height="4.9" fill="#fff" />
<rect x="242" y="224.9" width="1.2" height="4.1" fill="#fff" />
<rect x="242.1" y="221.8" width="1" height="7.2" fill="#fff" />
<rect x="240" y="216" width="5.1" height="1" fill="#000" />
<rect x="246.5" y="217.9" width="4" height="4.9" fill="#fff" />
<rect x="247.9" y="224.9" width="1.2" height="4.1" fill="#fff" />
<rect x="245.9" y="216" width="5.1" height="1" fill="#000" />
<rect x="252.4" y="217.9" width="4" height="4.9" fill="#fff" />
<rect x="253.8" y="224.9" width="1.2" height="4.1" fill="#fff" />
<rect x="251.8" y="216" width="5.1" height="1" fill="#000" />
<rect x="258.3" y="217.9" width="4" height="4.9" fill="#fff" />
<rect x="259.7" y="224.9" width="1.2" height="4.1" fill="#fff" />
<rect x="257.7" y="216" width="5.1" height="1" fill="#000" />
<rect x="264.2" y="217.9" width="4" height="4.9" fill="#fff" />
<rect x="265.6" y="224.9" width="1.2" height="4.1" fill="#fff" />
<rect x="263.6" y="216" width="5.1" height="1" fill="#000" />
<rect x="270.1" y="217.9" width="4" height="4.9" fill="#fff" />
<rect x="271.5" y="224.9" width="1.2" height="4.1" fill="#fff" />
<rect x="269.5" y="216" width="5.1" height="1" fill="#000" />
<rect x="275.1" y="217.9" width="1" height="4.9" fill="#fff" />
<rect x="102.2" y="240" width="174.4" height="14" fill="#000" />
<rect x="104.9" y="241.2" width="4" height="5.7" fill="#fff" />
<rect x="105.9" y="248.8" width="2" height="4.2" fill="#fff" />
<rect x="110.8" y="241.2" width="4" height="5.7" fill="#fff" />
<rect x="112.2" y="248.8" width="1.2" height="4.2" fill="#fff" />
<rect x="116.7" y="241.2" width="4" height="5.7" fill="#fff" />
<rect x="118.1" y="248.8" width="1.2" height="4.2" fill="#fff" />
<rect x="118.2" y="245.9" width="1" height="7.1" fill="#fff" />
<rect x="122.6" y="241.2" width="4" height="5.7" fill="#fff" />
<rect x="124" y="248.8" width="1.2" height="4.2" fill="#fff" />
<rect x="128.5" y="241.2" width="4" height="5.7" fill="#fff" />
<rect x="129.9" y="248.8" width="1.2" height="4.2" fill="#fff" />
<rect x="134.4" y="241.2" width="4" height="5.7" fill="#fff" />
<rect x="135.8" y="248.8" width="1.2" height="4.2" fill="#fff" />
<rect x="140.3" y="241.2" width="4" height="5.7" fill="#fff" />
<rect x="141.3" y="248.8" width="2" height="4.2" fill="#fff" />
<rect x="146.2" y="241.2" width="4" height="5.7" fill="#fff" />
<rect x="147.6" y="248.8" width="1.2" height="4.2" fill="#fff" />
<rect x="152.1" y="241.2" width="4" height="5.7" fill="#fff" />
<rect x="153.5" y="248.8" width="1.2" height="4.2" fill="#fff" />
<rect x="158" y="241.2" width="4" height="5.7" fill="#fff" />
<rect x="159.4" y="248.8" width="1.2" height="4.2" fill="#fff" />
<rect x="159.5" y="245.9" width="1" height="7.1" fill="#fff" />
<rect x="163.9" y="241.2" width="4" height="5.7" fill="#fff" />
<rect x="165.3" y="248.8" width="1.2" height="4.2" fill="#fff" />
<rect x="165.4" y="245.9" width="1" height="7.1" fill="#fff" />
<rect x="169.8" y="241.2" width="4" height="5.7" fill="#fff" />
<rect x="171.2" y="248.8" width="1.2" height="4.2" fill="#fff" />
<rect x="171.3" y="245.9" width="1" height="7.1" fill="#fff" />
<rect x="175.7" y="241.2" width="4" height="5.7" fill="#fff" />
<rect x="176.7" y="248.8" width="2" height="4.2" fill="#fff" />
<rect x="181.6" y="241.2" width="4" height="5.7" fill="#fff" />
<rect x="182.6" y="248.8" width="2" height="4.2" fill="#fff" />
<rect x="187.5" y="241.2" width="4" height="5.7" fill="#fff" />
<rect x="188.9" y="248.8" width="1.2" height="4.2" fill="#fff" />
<rect x="193.4" y="241.2" width="4" height="5.7" fill="#fff" />
<rect x="194.8" y="248.8" width="1.2" height="4.2" fill="#fff" />
<rect x="199.3" y="241.2" width="4" height="5.7" fill="#fff" />
<rect x="200.7" y="248.8" width="1.2" height="4.2" fill="#fff" />
<rect x="205.2" y="241.2" width="4" height="5.7" fill="#fff" />
<rect x="206.6" y="248.8" width="1.2" height="4.2" fill="#fff" />
<rect x="211.1" y="241.2" width="4" height="5.7" fill="#fff" />
<rect x="212.5" y="248.8" width="1.2" height="4.2" fill="#fff" />
<rect x="217" y="241.2" width="4" height="5.7" fill="#fff" />
<rect x="218.4" y="248.8" width="1.2" height="4.2" fill="#fff" />
<rect x="222.9" y="241.2" width="4" height="5.7" fill="#fff" />
<rect x="224.3" y="248.8" width="1.2" height="4.2" fill="#fff" />
<rect x="228.8" y="241.2" width="4" height="5.7" fill="#fff" />
<rect x="229.8" y="248.8" width="2" height="4.2" fill="#fff" />
<rect x="234.7" y="241.2" width="4" height="5.7" fill="#fff" />
<rect x="235.7" y="248.8" width="2" height="4.2" fill="#fff" />
<rect x="240.6" y="241.2" width="4" height="5.7" fill="#fff" />
<rect x="242" y="248.8" width="1.2" height="4.2" fill="#fff" />
<rect x="242.1" y="245.9" width="1" height="7.1" fill="#fff" />
<rect x="246.5" y="241.2" width="4" height="5.7" fill="#fff" />
<rect x="247.9" y="248.8" width="1.2" height="4.2" fill="#fff" />
<rect x="252.4" y="241.2" width="4" height="5.7" fill="#fff" />
<rect x="253.8" y="248.8" width="1.2" height="4.2" fill="#fff" />
<rect x="258.3" y="241.2" width="4" height="5.7" fill="#fff" />
<rect x="259.7" y="248.8" width="1.2" height="4.2" fill="#fff" />
<rect x="264.2" y="241.2" width="4" height="5.7" fill="#fff" />
<rect x="265.6" y="248.8" width="1.2" height="4.2" fill="#fff" />
<rect x="270.1" y="241.2" width="4" height="5.7" fill="#fff" />
<rect x="271.5" y="248.8" width="1.2" height="4.2" fill="#fff" />
<rect x="275.1" y="241.2" width="1" height="5.7" fill="#fff" />
<rect x="88" y="216" width="10" height="1" fill="#000" />
<rect x="97" y="216" width="1" height="10" fill="#000" />
<rect x="94" y="225" width="4" height="1" fill="#000" />
<rect x="94" y="223" width="1" height="8" fill="#000" />
<rect x="90" y="223" width="5" height="1" fill="#000" />
<rect x="90" y="223" width="1" height="3" fill="#000" />
<rect x="88" y="225" width="3" height="2" fill="#000" />
<rect x="84" y="230" width="11" height="1" fill="#000" />
<rect x="88" y="241" width="10" height="1" fill="#000" />
<rect x="97" y="241" width="1" height="10" fill="#000" />
<rect x="94" y="250" width="4" height="1" fill="#000" />
<rect x="94" y="248" width="1" height="8" fill="#000" />
<rect x="90" y="248" width="5" height="1" fill="#000" />
<rect x="90" y="248" width="1" height="3" fill="#000" />
<rect x="88" y="250" width="3" height="2" fill="#000" />
<rect x="84" y="255" width="11" height="1" fill="#000" />
<rect x="281" y="216" width="10" height="1" fill="#000" />
<rect x="281" y="216" width="1" height="11" fill="#000" />
<rect x="281" y="226" width="3" height="1" fill="#000" />
<rect x="283" y="224" width="1" height="8" fill="#000" />
<rect x="283" y="224" width="6" height="1" fill="#000" />
<rect x="288" y="224" width="1" height="3" fill="#000" />
<rect x="288" y="226" width="3" height="2" fill="#000" />
<rect x="283" y="231" width="12" height="1" fill="#000" />
<rect x="281" y="241" width="10" height="1" fill="#000" />
<rect x="281" y="241" width="1" height="11" fill="#000" />
<rect x="281" y="251" width="3" height="1" fill="#000" />
<rect x="283" y="249" width="1" height="8" fill="#000" />
<rect x="283" y="249" width="6" height="1" fill="#000" />
<rect x="288" y="249" width="1" height="3" fill="#000" />
<rect x="288" y="251" width="3" height="2" fill="#000" />
<rect x="283" y="256" width="12" height="1" fill="#000" />
<rect x="84.5" y="232.5" width="14" height="6" rx="0" fill="#fff" stroke="#000" stroke-width="1"/>
<rect x="281.5" y="232.5" width="14" height="6" rx="0" fill="#fff" stroke="#000" stroke-width="1"/>
<rect x="102.5" y="232.5" width="30" height="6" rx="0" fill="#fff" stroke="#000" stroke-width="1"/>
<rect x="137.5" y="232.5" width="30" height="6" rx="0" fill="#fff" stroke="#000" stroke-width="1"/>
<rect x="175.5" y="232.5" width="30" height="6" rx="0" fill="#fff" stroke="#000" stroke-width="1"/>
<rect x="211.5" y="232.5" width="30" height="6" rx="0" fill="#fff" stroke="#000" stroke-width="1"/>
<rect x="247" y="232.5" width="30" height="6" rx="0" fill="#fff" stroke="#000" stroke-width="1"/>
<rect x="153.5" y="97.3" width="59.7" height="18.7" fill="#000" />
<rect x="155.7" y="100.8" width="55.6" height="13.9" fill="#fff" />
<text transform="translate(158.2,111) scale(0.86,1)" font-size="12.5" textLength="53.4884" lengthAdjust="spacing" fill="#000">BANK 1</text>
<rect x="156.8" y="199" width="58.4" height="16.8" fill="#000" />
<rect x="158.7" y="200.9" width="55.3" height="13.8" fill="#fff" />
<text transform="translate(160,211) scale(0.86,1)" font-size="12.5" textLength="54.6512" lengthAdjust="spacing" fill="#000">BANK 0</text>
<rect x="332" y="125" width="60" height="60" fill="#000" />
<rect x="333" y="122" width="56" height="3.2" fill="#000" />
<rect x="335" y="184.8" width="56.5" height="3.2" fill="#000" />
<rect x="329" y="127.8" width="3.2" height="56.2" fill="#000" />
<rect x="391.8" y="125.5" width="3.2" height="56.8" fill="#000" />
<rect x="337.8" y="122" width="1.1" height="3" fill="#fff" />
<rect x="349" y="122" width="1.1" height="3" fill="#fff" />
<rect x="352" y="122" width="1.1" height="3" fill="#fff" />
<rect x="355" y="122" width="1.1" height="3" fill="#fff" />
<rect x="366.5" y="122" width="1.1" height="3" fill="#fff" />
<rect x="369.5" y="122" width="1.1" height="3" fill="#fff" />
<rect x="372.5" y="122" width="1.1" height="3" fill="#fff" />
<rect x="383" y="122" width="1.1" height="3" fill="#fff" />
<rect x="386" y="122" width="1.1" height="3" fill="#fff" />
<rect x="389" y="122" width="1.1" height="3" fill="#fff" />
<rect x="336" y="185" width="1.1" height="3" fill="#fff" />
<rect x="339" y="185" width="1.1" height="3" fill="#fff" />
<rect x="342" y="185" width="1.1" height="3" fill="#fff" />
<rect x="354" y="185" width="1.1" height="3" fill="#fff" />
<rect x="357" y="185" width="1.1" height="3" fill="#fff" />
<rect x="360" y="185" width="1.1" height="3" fill="#fff" />
<rect x="371" y="185" width="1.1" height="3" fill="#fff" />
<rect x="374" y="185" width="1.1" height="3" fill="#fff" />
<rect x="377" y="185" width="1.1" height="3" fill="#fff" />
<rect x="388" y="185" width="1.1" height="3" fill="#fff" />
<rect x="391" y="185" width="1.1" height="3" fill="#fff" />
<rect x="329" y="130.4" width="3" height="1.1" fill="#fff" />
<rect x="329" y="133.4" width="3" height="1.1" fill="#fff" />
<rect x="329" y="136.4" width="3" height="1.1" fill="#fff" />
<rect x="329" y="147" width="3" height="1.1" fill="#fff" />
<rect x="329" y="150" width="3" height="1.1" fill="#fff" />
<rect x="329" y="153" width="3" height="1.1" fill="#fff" />
<rect x="329" y="163.5" width="3" height="1.1" fill="#fff" />
<rect x="329" y="166.5" width="3" height="1.1" fill="#fff" />
<rect x="329" y="169.5" width="3" height="1.1" fill="#fff" />
<rect x="392" y="138.5" width="3" height="1.1" fill="#fff" />
<rect x="392" y="141.5" width="3" height="1.1" fill="#fff" />
<rect x="392" y="144.5" width="3" height="1.1" fill="#fff" />
<rect x="392" y="156" width="3" height="1.1" fill="#fff" />
<rect x="392" y="159" width="3" height="1.1" fill="#fff" />
<rect x="392" y="162" width="3" height="1.1" fill="#fff" />
<rect x="392" y="172.5" width="3" height="1.1" fill="#fff" />
<rect x="392" y="175.5" width="3" height="1.1" fill="#fff" />
<rect x="392" y="178.5" width="3" height="1.1" fill="#fff" />
<circle cx="338.7" cy="131.6" r="2.4" fill="#fff"/>
<rect x="146" y="273.6" width="59" height="60.4" fill="#000" />
<rect x="147" y="270.6" width="55" height="3.2" fill="#000" />
<rect x="149" y="333.8" width="56" height="3.2" fill="#000" />
<rect x="143" y="276.7" width="3.2" height="56.3" fill="#000" />
<rect x="204.8" y="274.4" width="3.2" height="57" fill="#000" />
<rect x="151" y="270.6" width="1.1" height="3" fill="#fff" />
<rect x="154" y="270.6" width="1.1" height="3" fill="#fff" />
<rect x="157" y="270.6" width="1.1" height="3" fill="#fff" />
<rect x="168" y="270.6" width="1.1" height="3" fill="#fff" />
<rect x="171" y="270.6" width="1.1" height="3" fill="#fff" />
<rect x="174" y="270.6" width="1.1" height="3" fill="#fff" />
<rect x="185" y="270.6" width="1.1" height="3" fill="#fff" />
<rect x="188" y="270.6" width="1.1" height="3" fill="#fff" />
<rect x="191" y="270.6" width="1.1" height="3" fill="#fff" />
<rect x="156.5" y="334" width="1.1" height="3" fill="#fff" />
<rect x="159.5" y="334" width="1.1" height="3" fill="#fff" />
<rect x="162.5" y="334" width="1.1" height="3" fill="#fff" />
<rect x="173.5" y="334" width="1.1" height="3" fill="#fff" />
<rect x="176.5" y="334" width="1.1" height="3" fill="#fff" />
<rect x="179.5" y="334" width="1.1" height="3" fill="#fff" />
<rect x="190.5" y="334" width="1.1" height="3" fill="#fff" />
<rect x="193.5" y="334" width="1.1" height="3" fill="#fff" />
<rect x="196.5" y="334" width="1.1" height="3" fill="#fff" />
<rect x="143" y="279" width="3" height="1.1" fill="#fff" />
<rect x="143" y="282.4" width="3" height="1.1" fill="#fff" />
<rect x="143" y="293.2" width="3" height="1.1" fill="#fff" />
<rect x="143" y="296.4" width="3" height="1.1" fill="#fff" />
<rect x="143" y="310" width="3" height="1.1" fill="#fff" />
<rect x="143" y="313.2" width="3" height="1.1" fill="#fff" />
<rect x="143" y="327" width="3" height="1.1" fill="#fff" />
<rect x="143" y="330.2" width="3" height="1.1" fill="#fff" />
<rect x="205" y="281.5" width="3" height="1.1" fill="#fff" />
<rect x="205" y="284.5" width="3" height="1.1" fill="#fff" />
<rect x="205" y="287.5" width="3" height="1.1" fill="#fff" />
<rect x="205" y="298.5" width="3" height="1.1" fill="#fff" />
<rect x="205" y="301.5" width="3" height="1.1" fill="#fff" />
<rect x="205" y="304.5" width="3" height="1.1" fill="#fff" />
<rect x="205" y="315.5" width="3" height="1.1" fill="#fff" />
<rect x="205" y="318.5" width="3" height="1.1" fill="#fff" />
<rect x="205" y="321.5" width="3" height="1.1" fill="#fff" />
<circle cx="152" cy="280.5" r="2.4" fill="#fff"/>
<rect x="494" y="405.7" width="60" height="60.3" fill="#000" />
<rect x="495" y="402.7" width="56" height="3.2" fill="#000" />
<rect x="496.7" y="465.8" width="56.3" height="3.2" fill="#000" />
<rect x="491" y="408.8" width="3.2" height="56.2" fill="#000" />
<rect x="553.8" y="406.8" width="3.2" height="56.2" fill="#000" />
<rect x="505.4" y="402.7" width="1.1" height="3" fill="#fff" />
<rect x="508.4" y="402.7" width="1.1" height="3" fill="#fff" />
<rect x="511.4" y="402.7" width="1.1" height="3" fill="#fff" />
<rect x="522.3" y="402.7" width="1.1" height="3" fill="#fff" />
<rect x="525.3" y="402.7" width="1.1" height="3" fill="#fff" />
<rect x="528.3" y="402.7" width="1.1" height="3" fill="#fff" />
<rect x="539.3" y="402.7" width="1.1" height="3" fill="#fff" />
<rect x="542.3" y="402.7" width="1.1" height="3" fill="#fff" />
<rect x="545.3" y="402.7" width="1.1" height="3" fill="#fff" />
<rect x="498" y="466" width="1.1" height="3" fill="#fff" />
<rect x="501" y="466" width="1.1" height="3" fill="#fff" />
<rect x="510.6" y="466" width="1.1" height="3" fill="#fff" />
<rect x="513.6" y="466" width="1.1" height="3" fill="#fff" />
<rect x="516.6" y="466" width="1.1" height="3" fill="#fff" />
<rect x="528" y="466" width="1.1" height="3" fill="#fff" />
<rect x="531" y="466" width="1.1" height="3" fill="#fff" />
<rect x="534" y="466" width="1.1" height="3" fill="#fff" />
<rect x="545" y="466" width="1.1" height="3" fill="#fff" />
<rect x="548" y="466" width="1.1" height="3" fill="#fff" />
<rect x="551" y="466" width="1.1" height="3" fill="#fff" />
<rect x="491" y="411.4" width="3" height="1.1" fill="#fff" />
<rect x="491" y="414.4" width="3" height="1.1" fill="#fff" />
<rect x="491" y="417.4" width="3" height="1.1" fill="#fff" />
<rect x="491" y="428.6" width="3" height="1.1" fill="#fff" />
<rect x="491" y="431.6" width="3" height="1.1" fill="#fff" />
<rect x="491" y="434.6" width="3" height="1.1" fill="#fff" />
<rect x="491" y="445.6" width="3" height="1.1" fill="#fff" />
<rect x="491" y="448.6" width="3" height="1.1" fill="#fff" />
<rect x="491" y="451.6" width="3" height="1.1" fill="#fff" />
<rect x="554" y="414.5" width="3" height="1.1" fill="#fff" />
<rect x="554" y="417.5" width="3" height="1.1" fill="#fff" />
<rect x="554" y="420.5" width="3" height="1.1" fill="#fff" />
<rect x="554" y="434.5" width="3" height="1.1" fill="#fff" />
<rect x="554" y="437.5" width="3" height="1.1" fill="#fff" />
<rect x="554" y="440.5" width="3" height="1.1" fill="#fff" />
<rect x="554" y="451.5" width="3" height="1.1" fill="#fff" />
<rect x="554" y="454.5" width="3" height="1.1" fill="#fff" />
<rect x="554" y="457.5" width="3" height="1.1" fill="#fff" />
<rect x="320" y="22" width="89" height="41" fill="#000" />
<rect x="407" y="37" width="2.5" height="12" fill="#fff" />
<rect x="323" y="24" width="3.6" height="1" fill="#fff" />
<rect x="329.185" y="24" width="3.6" height="1" fill="#fff" />
<rect x="335.369" y="24" width="3.6" height="1" fill="#fff" />
<rect x="341.554" y="24" width="3.6" height="1" fill="#fff" />
<rect x="347.738" y="24" width="3.6" height="1" fill="#fff" />
<rect x="353.923" y="24" width="3.6" height="1" fill="#fff" />
<rect x="360.108" y="24" width="3.6" height="1" fill="#fff" />
<rect x="366.292" y="24" width="3.6" height="1" fill="#fff" />
<rect x="372.477" y="24" width="3.6" height="1" fill="#fff" />
<rect x="378.662" y="24" width="3.6" height="1" fill="#fff" />
<rect x="384.846" y="24" width="3.6" height="1" fill="#fff" />
<rect x="391.031" y="24" width="3.6" height="1" fill="#fff" />
<rect x="397.215" y="24" width="3.6" height="1" fill="#fff" />
<rect x="403.4" y="24" width="3.6" height="1" fill="#fff" />
<rect x="323" y="61" width="3.6" height="1" fill="#fff" />
<rect x="329.185" y="61" width="3.6" height="1" fill="#fff" />
<rect x="335.369" y="61" width="3.6" height="1" fill="#fff" />
<rect x="341.554" y="61" width="3.6" height="1" fill="#fff" />
<rect x="347.738" y="61" width="3.6" height="1" fill="#fff" />
<rect x="353.923" y="61" width="3.6" height="1" fill="#fff" />
<rect x="360.108" y="61" width="3.6" height="1" fill="#fff" />
<rect x="366.292" y="61" width="3.6" height="1" fill="#fff" />
<rect x="372.477" y="61" width="3.6" height="1" fill="#fff" />
<rect x="378.662" y="61" width="3.6" height="1" fill="#fff" />
<rect x="384.846" y="61" width="3.6" height="1" fill="#fff" />
<rect x="391.031" y="61" width="3.6" height="1" fill="#fff" />
<rect x="397.215" y="61" width="3.6" height="1" fill="#fff" />
<rect x="403.4" y="61" width="3.6" height="1" fill="#fff" />
<rect x="345" y="36" width="40.2" height="14" fill="#fff" />
<text transform="translate(349.6,46.8) scale(0.86,1)" font-size="12.5" textLength="35.2326" lengthAdjust="spacing" fill="#000">BIOS</text>
<rect x="596" y="444" width="127" height="43" fill="#000" />
<rect x="721" y="460" width="2.5" height="11" fill="#fff" />
<rect x="599" y="446" width="3.6" height="1" fill="#fff" />
<rect x="605.195" y="446" width="3.6" height="1" fill="#fff" />
<rect x="611.389" y="446" width="3.6" height="1" fill="#fff" />
<rect x="617.584" y="446" width="3.6" height="1" fill="#fff" />
<rect x="623.779" y="446" width="3.6" height="1" fill="#fff" />
<rect x="629.974" y="446" width="3.6" height="1" fill="#fff" />
<rect x="636.168" y="446" width="3.6" height="1" fill="#fff" />
<rect x="642.363" y="446" width="3.6" height="1" fill="#fff" />
<rect x="648.558" y="446" width="3.6" height="1" fill="#fff" />
<rect x="654.753" y="446" width="3.6" height="1" fill="#fff" />
<rect x="660.947" y="446" width="3.6" height="1" fill="#fff" />
<rect x="667.142" y="446" width="3.6" height="1" fill="#fff" />
<rect x="673.337" y="446" width="3.6" height="1" fill="#fff" />
<rect x="679.532" y="446" width="3.6" height="1" fill="#fff" />
<rect x="685.726" y="446" width="3.6" height="1" fill="#fff" />
<rect x="691.921" y="446" width="3.6" height="1" fill="#fff" />
<rect x="698.116" y="446" width="3.6" height="1" fill="#fff" />
<rect x="704.311" y="446" width="3.6" height="1" fill="#fff" />
<rect x="710.505" y="446" width="3.6" height="1" fill="#fff" />
<rect x="716.7" y="446" width="3.6" height="1" fill="#fff" />
<rect x="599" y="484" width="3.6" height="1" fill="#fff" />
<rect x="605.195" y="484" width="3.6" height="1" fill="#fff" />
<rect x="611.389" y="484" width="3.6" height="1" fill="#fff" />
<rect x="617.584" y="484" width="3.6" height="1" fill="#fff" />
<rect x="623.779" y="484" width="3.6" height="1" fill="#fff" />
<rect x="629.974" y="484" width="3.6" height="1" fill="#fff" />
<rect x="636.168" y="484" width="3.6" height="1" fill="#fff" />
<rect x="642.363" y="484" width="3.6" height="1" fill="#fff" />
<rect x="648.558" y="484" width="3.6" height="1" fill="#fff" />
<rect x="654.753" y="484" width="3.6" height="1" fill="#fff" />
<rect x="660.947" y="484" width="3.6" height="1" fill="#fff" />
<rect x="667.142" y="484" width="3.6" height="1" fill="#fff" />
<rect x="673.337" y="484" width="3.6" height="1" fill="#fff" />
<rect x="679.532" y="484" width="3.6" height="1" fill="#fff" />
<rect x="685.726" y="484" width="3.6" height="1" fill="#fff" />
<rect x="691.921" y="484" width="3.6" height="1" fill="#fff" />
<rect x="698.116" y="484" width="3.6" height="1" fill="#fff" />
<rect x="704.311" y="484" width="3.6" height="1" fill="#fff" />
<rect x="710.505" y="484" width="3.6" height="1" fill="#fff" />
<rect x="716.7" y="484" width="3.6" height="1" fill="#fff" />
<rect x="645" y="458" width="29" height="13.7" rx="2" fill="#fff"/>
<text transform="translate(647.6,468.5) scale(0.86,1)" font-size="12.5" textLength="28.8372" lengthAdjust="spacing" fill="#000">KBD</text>
<polygon points="340,411 415,411 415,478.6 408.8,486 340,486" fill="#000" stroke="none" stroke-width="1" />
<rect x="404" y="475" width="6.2" height="6" rx="0.5" fill="#fff"/>
<rect x="363" y="441" width="29" height="14" rx="2" fill="#fff"/>
<text transform="translate(364,452) scale(0.86,1)" font-size="12.5" textLength="31.9767" lengthAdjust="spacing" fill="#000">CPU</text>
<polygon points="320,260 399,260 399,339 318,339 318,262" fill="#000" stroke="none" stroke-width="1" />
<rect x="321" y="262.9" width="3.8" height="3.2" rx="1.1" fill="#fff"/>
<rect x="326.97" y="262.9" width="3.8" height="3.2" rx="1.1" fill="#fff"/>
<rect x="332.94" y="262.9" width="3.8" height="3.2" rx="1.1" fill="#fff"/>
<rect x="338.91" y="262.9" width="3.8" height="3.2" rx="1.1" fill="#fff"/>
<rect x="344.88" y="262.9" width="3.8" height="3.2" rx="1.1" fill="#fff"/>
<rect x="350.85" y="262.9" width="3.8" height="3.2" rx="1.1" fill="#fff"/>
<rect x="356.82" y="262.9" width="3.8" height="3.2" rx="1.1" fill="#fff"/>
<rect x="362.79" y="262.9" width="3.8" height="3.2" rx="1.1" fill="#fff"/>
<rect x="368.76" y="262.9" width="3.8" height="3.2" rx="1.1" fill="#fff"/>
<rect x="374.73" y="262.9" width="3.8" height="3.2" rx="1.1" fill="#fff"/>
<rect x="380.7" y="262.9" width="3.8" height="3.2" rx="1.1" fill="#fff"/>
<rect x="386.67" y="262.9" width="3.8" height="3.2" rx="1.1" fill="#fff"/>
<rect x="392.64" y="262.9" width="3.8" height="3.2" rx="1.1" fill="#fff"/>
<rect x="321" y="268.8" width="3.8" height="3.2" rx="1.1" fill="#fff"/>
<rect x="326.97" y="268.8" width="3.8" height="3.2" rx="1.1" fill="#fff"/>
<rect x="332.94" y="268.8" width="3.8" height="3.2" rx="1.1" fill="#fff"/>
<rect x="338.91" y="268.8" width="3.8" height="3.2" rx="1.1" fill="#fff"/>
<rect x="344.88" y="268.8" width="3.8" height="3.2" rx="1.1" fill="#fff"/>
<rect x="350.85" y="268.8" width="3.8" height="3.2" rx="1.1" fill="#fff"/>
<rect x="356.82" y="268.8" width="3.8" height="3.2" rx="1.1" fill="#fff"/>
<rect x="362.79" y="268.8" width="3.8" height="3.2" rx="1.1" fill="#fff"/>
<rect x="368.76" y="268.8" width="3.8" height="3.2" rx="1.1" fill="#fff"/>
<rect x="374.73" y="268.8" width="3.8" height="3.2" rx="1.1" fill="#fff"/>
<rect x="380.7" y="268.8" width="3.8" height="3.2" rx="1.1" fill="#fff"/>
<rect x="386.67" y="268.8" width="3.8" height="3.2" rx="1.1" fill="#fff"/>
<rect x="392.64" y="268.8" width="3.8" height="3.2" rx="1.1" fill="#fff"/>
<rect x="321" y="274.7" width="3.8" height="3.2" rx="1.1" fill="#fff"/>
<rect x="326.97" y="274.7" width="3.8" height="3.2" rx="1.1" fill="#fff"/>
<rect x="332.94" y="274.7" width="3.8" height="3.2" rx="1.1" fill="#fff"/>
<rect x="338.91" y="274.7" width="3.8" height="3.2" rx="1.1" fill="#fff"/>
<rect x="344.88" y="274.7" width="3.8" height="3.2" rx="1.1" fill="#fff"/>
<rect x="350.85" y="274.7" width="3.8" height="3.2" rx="1.1" fill="#fff"/>
<rect x="356.82" y="274.7" width="3.8" height="3.2" rx="1.1" fill="#fff"/>
<rect x="362.79" y="274.7" width="3.8" height="3.2" rx="1.1" fill="#fff"/>
<rect x="368.76" y="274.7" width="3.8" height="3.2" rx="1.1" fill="#fff"/>
<rect x="374.73" y="274.7" width="3.8" height="3.2" rx="1.1" fill="#fff"/>
<rect x="380.7" y="274.7" width="3.8" height="3.2" rx="1.1" fill="#fff"/>
<rect x="386.67" y="274.7" width="3.8" height="3.2" rx="1.1" fill="#fff"/>
<rect x="392.64" y="274.7" width="3.8" height="3.2" rx="1.1" fill="#fff"/>
<rect x="321" y="280.6" width="3.8" height="3.2" rx="1.1" fill="#fff"/>
<rect x="326.97" y="280.6" width="3.8" height="3.2" rx="1.1" fill="#fff"/>
<rect x="332.94" y="280.6" width="3.8" height="3.2" rx="1.1" fill="#fff"/>
<rect x="380.7" y="280.6" width="3.8" height="3.2" rx="1.1" fill="#fff"/>
<rect x="386.67" y="280.6" width="3.8" height="3.2" rx="1.1" fill="#fff"/>
<rect x="392.64" y="280.6" width="3.8" height="3.2" rx="1.1" fill="#fff"/>
<rect x="321" y="286.5" width="3.8" height="3.2" rx="1.1" fill="#fff"/>
<rect x="326.97" y="286.5" width="3.8" height="3.2" rx="1.1" fill="#fff"/>
<rect x="332.94" y="286.5" width="3.8" height="3.2" rx="1.1" fill="#fff"/>
<rect x="380.7" y="286.5" width="3.8" height="3.2" rx="1.1" fill="#fff"/>
<rect x="386.67" y="286.5" width="3.8" height="3.2" rx="1.1" fill="#fff"/>
<rect x="392.64" y="286.5" width="3.8" height="3.2" rx="1.1" fill="#fff"/>
<rect x="321" y="292.4" width="3.8" height="3.2" rx="1.1" fill="#fff"/>
<rect x="326.97" y="292.4" width="3.8" height="3.2" rx="1.1" fill="#fff"/>
<rect x="332.94" y="292.4" width="3.8" height="3.2" rx="1.1" fill="#fff"/>
<rect x="380.7" y="292.4" width="3.8" height="3.2" rx="1.1" fill="#fff"/>
<rect x="386.67" y="292.4" width="3.8" height="3.2" rx="1.1" fill="#fff"/>
<rect x="392.64" y="292.4" width="3.8" height="3.2" rx="1.1" fill="#fff"/>
<rect x="321" y="298.3" width="3.8" height="3.2" rx="1.1" fill="#fff"/>
<rect x="326.97" y="298.3" width="3.8" height="3.2" rx="1.1" fill="#fff"/>
<rect x="332.94" y="298.3" width="3.8" height="3.2" rx="1.1" fill="#fff"/>
<rect x="380.7" y="298.3" width="3.8" height="3.2" rx="1.1" fill="#fff"/>
<rect x="386.67" y="298.3" width="3.8" height="3.2" rx="1.1" fill="#fff"/>
<rect x="392.64" y="298.3" width="3.8" height="3.2" rx="1.1" fill="#fff"/>
<rect x="321" y="304.2" width="3.8" height="3.2" rx="1.1" fill="#fff"/>
<rect x="326.97" y="304.2" width="3.8" height="3.2" rx="1.1" fill="#fff"/>
<rect x="332.94" y="304.2" width="3.8" height="3.2" rx="1.1" fill="#fff"/>
<rect x="380.7" y="304.2" width="3.8" height="3.2" rx="1.1" fill="#fff"/>
<rect x="386.67" y="304.2" width="3.8" height="3.2" rx="1.1" fill="#fff"/>
<rect x="392.64" y="304.2" width="3.8" height="3.2" rx="1.1" fill="#fff"/>
<rect x="321" y="310.1" width="3.8" height="3.2" rx="1.1" fill="#fff"/>
<rect x="326.97" y="310.1" width="3.8" height="3.2" rx="1.1" fill="#fff"/>
<rect x="332.94" y="310.1" width="3.8" height="3.2" rx="1.1" fill="#fff"/>
<rect x="380.7" y="310.1" width="3.8" height="3.2" rx="1.1" fill="#fff"/>
<rect x="386.67" y="310.1" width="3.8" height="3.2" rx="1.1" fill="#fff"/>
<rect x="392.64" y="310.1" width="3.8" height="3.2" rx="1.1" fill="#fff"/>
<rect x="321" y="316" width="3.8" height="3.2" rx="1.1" fill="#fff"/>
<rect x="326.97" y="316" width="3.8" height="3.2" rx="1.1" fill="#fff"/>
<rect x="332.94" y="316" width="3.8" height="3.2" rx="1.1" fill="#fff"/>
<rect x="380.7" y="316" width="3.8" height="3.2" rx="1.1" fill="#fff"/>
<rect x="386.67" y="316" width="3.8" height="3.2" rx="1.1" fill="#fff"/>
<rect x="392.64" y="316" width="3.8" height="3.2" rx="1.1" fill="#fff"/>
<rect x="321" y="321.9" width="3.8" height="3.2" rx="1.1" fill="#fff"/>
<rect x="326.97" y="321.9" width="3.8" height="3.2" rx="1.1" fill="#fff"/>
<rect x="332.94" y="321.9" width="3.8" height="3.2" rx="1.1" fill="#fff"/>
<rect x="338.91" y="321.9" width="3.8" height="3.2" rx="1.1" fill="#fff"/>
<rect x="344.88" y="321.9" width="3.8" height="3.2" rx="1.1" fill="#fff"/>
<rect x="350.85" y="321.9" width="3.8" height="3.2" rx="1.1" fill="#fff"/>
<rect x="356.82" y="321.9" width="3.8" height="3.2" rx="1.1" fill="#fff"/>
<rect x="362.79" y="321.9" width="3.8" height="3.2" rx="1.1" fill="#fff"/>
<rect x="368.76" y="321.9" width="3.8" height="3.2" rx="1.1" fill="#fff"/>
<rect x="374.73" y="321.9" width="3.8" height="3.2" rx="1.1" fill="#fff"/>
<rect x="380.7" y="321.9" width="3.8" height="3.2" rx="1.1" fill="#fff"/>
<rect x="386.67" y="321.9" width="3.8" height="3.2" rx="1.1" fill="#fff"/>
<rect x="392.64" y="321.9" width="3.8" height="3.2" rx="1.1" fill="#fff"/>
<rect x="321" y="327.8" width="3.8" height="3.2" rx="1.1" fill="#fff"/>
<rect x="326.97" y="327.8" width="3.8" height="3.2" rx="1.1" fill="#fff"/>
<rect x="332.94" y="327.8" width="3.8" height="3.2" rx="1.1" fill="#fff"/>
<rect x="338.91" y="327.8" width="3.8" height="3.2" rx="1.1" fill="#fff"/>
<rect x="344.88" y="327.8" width="3.8" height="3.2" rx="1.1" fill="#fff"/>
<rect x="350.85" y="327.8" width="3.8" height="3.2" rx="1.1" fill="#fff"/>
<rect x="356.82" y="327.8" width="3.8" height="3.2" rx="1.1" fill="#fff"/>
<rect x="362.79" y="327.8" width="3.8" height="3.2" rx="1.1" fill="#fff"/>
<rect x="368.76" y="327.8" width="3.8" height="3.2" rx="1.1" fill="#fff"/>
<rect x="374.73" y="327.8" width="3.8" height="3.2" rx="1.1" fill="#fff"/>
<rect x="380.7" y="327.8" width="3.8" height="3.2" rx="1.1" fill="#fff"/>
<rect x="386.67" y="327.8" width="3.8" height="3.2" rx="1.1" fill="#fff"/>
<rect x="392.64" y="327.8" width="3.8" height="3.2" rx="1.1" fill="#fff"/>
<rect x="321" y="333.7" width="3.8" height="3.2" rx="1.1" fill="#fff"/>
<rect x="326.97" y="333.7" width="3.8" height="3.2" rx="1.1" fill="#fff"/>
<rect x="332.94" y="333.7" width="3.8" height="3.2" rx="1.1" fill="#fff"/>
<rect x="338.91" y="333.7" width="3.8" height="3.2" rx="1.1" fill="#fff"/>
<rect x="344.88" y="333.7" width="3.8" height="3.2" rx="1.1" fill="#fff"/>
<rect x="350.85" y="333.7" width="3.8" height="3.2" rx="1.1" fill="#fff"/>
<rect x="356.82" y="333.7" width="3.8" height="3.2" rx="1.1" fill="#fff"/>
<rect x="362.79" y="333.7" width="3.8" height="3.2" rx="1.1" fill="#fff"/>
<rect x="368.76" y="333.7" width="3.8" height="3.2" rx="1.1" fill="#fff"/>
<rect x="374.73" y="333.7" width="3.8" height="3.2" rx="1.1" fill="#fff"/>
<rect x="380.7" y="333.7" width="3.8" height="3.2" rx="1.1" fill="#fff"/>
<rect x="386.67" y="333.7" width="3.8" height="3.2" rx="1.1" fill="#fff"/>
<rect x="392.64" y="333.7" width="3.8" height="3.2" rx="1.1" fill="#fff"/>
<rect x="341" y="282" width="35" height="35" fill="#fff" />
<rect x="341" y="282" width="2.3" height="1.6" fill="#000" />
<rect x="341" y="282" width="1.2" height="3" fill="#000" />
<ellipse cx="345.3" cy="285.9" rx="2.8" ry="2.5" fill="#000"/>
<rect x="343.3" y="291.4" width="30.9" height="15.8" rx="3" fill="#fff" stroke="#000" stroke-width="1.6"/>
<text transform="translate(345.5,303) scale(0.86,1)" font-size="12.5" textLength="30.5814" lengthAdjust="spacing" fill="#000">NPU</text>
<rect x="37" y="379" width="65" height="26" fill="#000" />
<rect x="38.8" y="382.2" width="3.3" height="5.1" fill="#fff" />
<rect x="38.8" y="398.2" width="3.3" height="4.8" fill="#fff" />
<rect x="44.7" y="382.2" width="3.3" height="5.1" fill="#fff" />
<rect x="44.7" y="398.2" width="3.3" height="4.8" fill="#fff" />
<rect x="50.6" y="382.2" width="3.3" height="5.1" fill="#fff" />
<rect x="50.6" y="398.2" width="3.3" height="4.8" fill="#fff" />
<rect x="56.5" y="382.2" width="3.3" height="5.1" fill="#fff" />
<rect x="56.5" y="398.2" width="3.3" height="4.8" fill="#fff" />
<rect x="62.4" y="382.2" width="3.3" height="5.1" fill="#fff" />
<rect x="62.4" y="398.2" width="3.3" height="4.8" fill="#fff" />
<rect x="68.3" y="382.2" width="3.3" height="5.1" fill="#fff" />
<rect x="68.3" y="398.2" width="3.3" height="4.8" fill="#fff" />
<rect x="74.2" y="382.2" width="3.3" height="5.1" fill="#fff" />
<rect x="74.2" y="398.2" width="3.3" height="4.8" fill="#fff" />
<rect x="80.1" y="382.2" width="3.3" height="5.1" fill="#fff" />
<rect x="80.1" y="398.2" width="3.3" height="4.8" fill="#fff" />
<rect x="86" y="382.2" width="3.3" height="5.1" fill="#fff" />
<rect x="86" y="398.2" width="3.3" height="4.8" fill="#fff" />
<rect x="91.9" y="382.2" width="3.3" height="5.1" fill="#fff" />
<rect x="91.9" y="398.2" width="3.3" height="4.8" fill="#fff" />
<rect x="97.8" y="382.2" width="3.9" height="5.1" fill="#fff" />
<rect x="97.8" y="398.2" width="3.9" height="4.8" fill="#fff" />
<rect x="43.8" y="389.8" width="23.4" height="5.2" fill="#fff" />
<rect x="71.9" y="389.8" width="25.3" height="5.2" fill="#fff" />
<polygon points="37,390.4 38.8,391 38.8,393.8 37,394.4" fill="#fff" stroke="none" stroke-width="1" />
<rect x="111" y="365" width="65" height="24.7" fill="#000" />
<rect x="112.8" y="366.9" width="3.3" height="6.1" fill="#fff" />
<rect x="112.8" y="383.2" width="3.3" height="5.7" fill="#fff" />
<rect x="118.65" y="366.9" width="3.3" height="6.1" fill="#fff" />
<rect x="118.65" y="383.2" width="3.3" height="5.7" fill="#fff" />
<rect x="124.5" y="366.9" width="3.3" height="6.1" fill="#fff" />
<rect x="124.5" y="383.2" width="3.3" height="5.7" fill="#fff" />
<rect x="130.35" y="366.9" width="3.3" height="6.1" fill="#fff" />
<rect x="130.35" y="383.2" width="3.3" height="5.7" fill="#fff" />
<rect x="136.2" y="366.9" width="3.3" height="6.1" fill="#fff" />
<rect x="136.2" y="383.2" width="3.3" height="5.7" fill="#fff" />
<rect x="142.05" y="366.9" width="3.3" height="6.1" fill="#fff" />
<rect x="142.05" y="383.2" width="3.3" height="5.7" fill="#fff" />
<rect x="147.9" y="366.9" width="3.3" height="6.1" fill="#fff" />
<rect x="147.9" y="383.2" width="3.3" height="5.7" fill="#fff" />
<rect x="153.75" y="366.9" width="3.3" height="6.1" fill="#fff" />
<rect x="153.75" y="383.2" width="3.3" height="5.7" fill="#fff" />
<rect x="159.6" y="366.9" width="3.3" height="6.1" fill="#fff" />
<rect x="159.6" y="383.2" width="3.3" height="5.7" fill="#fff" />
<rect x="165.45" y="366.9" width="3.3" height="6.1" fill="#fff" />
<rect x="165.45" y="383.2" width="3.3" height="5.7" fill="#fff" />
<rect x="171.3" y="366.9" width="3.9" height="6.1" fill="#fff" />
<rect x="171.3" y="383.2" width="3.9" height="5.7" fill="#fff" />
<rect x="117.8" y="376" width="22.9" height="3.6" fill="#fff" />
<rect x="145.4" y="376" width="25.8" height="3.6" fill="#fff" />
<polygon points="111,375.8 112.8,376.4 112.8,379.2 111,379.8" fill="#fff" stroke="none" stroke-width="1" />
<rect x="111" y="395.6" width="65" height="25.2" fill="#000" />
<rect x="112.8" y="398" width="3.3" height="5" fill="#fff" />
<rect x="112.8" y="414" width="3.3" height="5.1" fill="#fff" />
<rect x="118.65" y="398" width="3.3" height="5" fill="#fff" />
<rect x="118.65" y="414" width="3.3" height="5.1" fill="#fff" />
<rect x="124.5" y="398" width="3.3" height="5" fill="#fff" />
<rect x="124.5" y="414" width="3.3" height="5.1" fill="#fff" />
<rect x="130.35" y="398" width="3.3" height="5" fill="#fff" />
<rect x="130.35" y="414" width="3.3" height="5.1" fill="#fff" />
<rect x="136.2" y="398" width="3.3" height="5" fill="#fff" />
<rect x="136.2" y="414" width="3.3" height="5.1" fill="#fff" />
<rect x="142.05" y="398" width="3.3" height="5" fill="#fff" />
<rect x="142.05" y="414" width="3.3" height="5.1" fill="#fff" />
<rect x="147.9" y="398" width="3.3" height="5" fill="#fff" />
<rect x="147.9" y="414" width="3.3" height="5.1" fill="#fff" />
<rect x="153.75" y="398" width="3.3" height="5" fill="#fff" />
<rect x="153.75" y="414" width="3.3" height="5.1" fill="#fff" />
<rect x="159.6" y="398" width="3.3" height="5" fill="#fff" />
<rect x="159.6" y="414" width="3.3" height="5.1" fill="#fff" />
<rect x="165.45" y="398" width="3.3" height="5" fill="#fff" />
<rect x="165.45" y="414" width="3.3" height="5.1" fill="#fff" />
<rect x="171.3" y="398" width="3.9" height="5" fill="#fff" />
<rect x="171.3" y="414" width="3.9" height="5.1" fill="#fff" />
<rect x="117.8" y="406" width="22.9" height="4.5" fill="#fff" />
<rect x="145.4" y="406" width="25.8" height="4.5" fill="#fff" />
<polygon points="111,406.25 112.8,406.85 112.8,409.65 111,410.25" fill="#fff" stroke="none" stroke-width="1" />
<rect x="18" y="409.2" width="84" height="23.8" fill="#000" />
<rect x="20.5" y="411.2" width="3.3" height="4.9" fill="#fff" />
<rect x="20.5" y="426.5" width="3.3" height="4.9" fill="#fff" />
<rect x="26.37" y="411.2" width="3.3" height="4.9" fill="#fff" />
<rect x="26.37" y="426.5" width="3.3" height="4.9" fill="#fff" />
<rect x="32.24" y="411.2" width="3.3" height="4.9" fill="#fff" />
<rect x="32.24" y="426.5" width="3.3" height="4.9" fill="#fff" />
<rect x="38.11" y="411.2" width="3.3" height="4.9" fill="#fff" />
<rect x="38.11" y="426.5" width="3.3" height="4.9" fill="#fff" />
<rect x="43.98" y="411.2" width="3.3" height="4.9" fill="#fff" />
<rect x="43.98" y="426.5" width="3.3" height="4.9" fill="#fff" />
<rect x="49.85" y="411.2" width="3.3" height="4.9" fill="#fff" />
<rect x="49.85" y="426.5" width="3.3" height="4.9" fill="#fff" />
<rect x="55.72" y="411.2" width="3.3" height="4.9" fill="#fff" />
<rect x="55.72" y="426.5" width="3.3" height="4.9" fill="#fff" />
<rect x="61.59" y="411.2" width="3.3" height="4.9" fill="#fff" />
<rect x="61.59" y="426.5" width="3.3" height="4.9" fill="#fff" />
<rect x="67.46" y="411.2" width="3.3" height="4.9" fill="#fff" />
<rect x="67.46" y="426.5" width="3.3" height="4.9" fill="#fff" />
<rect x="73.33" y="411.2" width="3.3" height="4.9" fill="#fff" />
<rect x="73.33" y="426.5" width="3.3" height="4.9" fill="#fff" />
<rect x="79.2" y="411.2" width="3.3" height="4.9" fill="#fff" />
<rect x="79.2" y="426.5" width="3.3" height="4.9" fill="#fff" />
<rect x="85.07" y="411.2" width="3.3" height="4.9" fill="#fff" />
<rect x="85.07" y="426.5" width="3.3" height="4.9" fill="#fff" />
<rect x="90.94" y="411.2" width="3.3" height="4.9" fill="#fff" />
<rect x="90.94" y="426.5" width="3.3" height="4.9" fill="#fff" />
<rect x="96.81" y="411.2" width="3.9" height="4.9" fill="#fff" />
<rect x="96.81" y="426.5" width="3.9" height="4.9" fill="#fff" />
<rect x="24.8" y="419.2" width="34.2" height="4.7" fill="#fff" />
<rect x="63.7" y="419.2" width="33.5" height="4.7" fill="#fff" />
<polygon points="18,419.55 19.8,420.15 19.8,422.95 18,423.55" fill="#fff" stroke="none" stroke-width="1" />
<rect x="18" y="435" width="84" height="24.5" fill="#000" />
<rect x="20.5" y="437" width="3.3" height="4.9" fill="#fff" />
<rect x="20.5" y="452.3" width="3.3" height="4.9" fill="#fff" />
<rect x="26.37" y="437" width="3.3" height="4.9" fill="#fff" />
<rect x="26.37" y="452.3" width="3.3" height="4.9" fill="#fff" />
<rect x="32.24" y="437" width="3.3" height="4.9" fill="#fff" />
<rect x="32.24" y="452.3" width="3.3" height="4.9" fill="#fff" />
<rect x="38.11" y="437" width="3.3" height="4.9" fill="#fff" />
<rect x="38.11" y="452.3" width="3.3" height="4.9" fill="#fff" />
<rect x="43.98" y="437" width="3.3" height="4.9" fill="#fff" />
<rect x="43.98" y="452.3" width="3.3" height="4.9" fill="#fff" />
<rect x="49.85" y="437" width="3.3" height="4.9" fill="#fff" />
<rect x="49.85" y="452.3" width="3.3" height="4.9" fill="#fff" />
<rect x="55.72" y="437" width="3.3" height="4.9" fill="#fff" />
<rect x="55.72" y="452.3" width="3.3" height="4.9" fill="#fff" />
<rect x="61.59" y="437" width="3.3" height="4.9" fill="#fff" />
<rect x="61.59" y="452.3" width="3.3" height="4.9" fill="#fff" />
<rect x="67.46" y="437" width="3.3" height="4.9" fill="#fff" />
<rect x="67.46" y="452.3" width="3.3" height="4.9" fill="#fff" />
<rect x="73.33" y="437" width="3.3" height="4.9" fill="#fff" />
<rect x="73.33" y="452.3" width="3.3" height="4.9" fill="#fff" />
<rect x="79.2" y="437" width="3.3" height="4.9" fill="#fff" />
<rect x="79.2" y="452.3" width="3.3" height="4.9" fill="#fff" />
<rect x="85.07" y="437" width="3.3" height="4.9" fill="#fff" />
<rect x="85.07" y="452.3" width="3.3" height="4.9" fill="#fff" />
<rect x="90.94" y="437" width="3.3" height="4.9" fill="#fff" />
<rect x="90.94" y="452.3" width="3.3" height="4.9" fill="#fff" />
<rect x="96.81" y="437" width="3.9" height="4.9" fill="#fff" />
<rect x="96.81" y="452.3" width="3.9" height="4.9" fill="#fff" />
<rect x="24.8" y="445" width="34.2" height="4.7" fill="#fff" />
<rect x="63.7" y="445" width="33.5" height="4.7" fill="#fff" />
<polygon points="18,445.35 19.8,445.95 19.8,448.75 18,449.35" fill="#fff" stroke="none" stroke-width="1" />
<rect x="18" y="460.6" width="84" height="25" fill="#000" />
<rect x="20.5" y="462.6" width="3.3" height="4.9" fill="#fff" />
<rect x="20.5" y="477.9" width="3.3" height="4.9" fill="#fff" />
<rect x="26.37" y="462.6" width="3.3" height="4.9" fill="#fff" />
<rect x="26.37" y="477.9" width="3.3" height="4.9" fill="#fff" />
<rect x="32.24" y="462.6" width="3.3" height="4.9" fill="#fff" />
<rect x="32.24" y="477.9" width="3.3" height="4.9" fill="#fff" />
<rect x="38.11" y="462.6" width="3.3" height="4.9" fill="#fff" />
<rect x="38.11" y="477.9" width="3.3" height="4.9" fill="#fff" />
<rect x="43.98" y="462.6" width="3.3" height="4.9" fill="#fff" />
<rect x="43.98" y="477.9" width="3.3" height="4.9" fill="#fff" />
<rect x="49.85" y="462.6" width="3.3" height="4.9" fill="#fff" />
<rect x="49.85" y="477.9" width="3.3" height="4.9" fill="#fff" />
<rect x="55.72" y="462.6" width="3.3" height="4.9" fill="#fff" />
<rect x="55.72" y="477.9" width="3.3" height="4.9" fill="#fff" />
<rect x="61.59" y="462.6" width="3.3" height="4.9" fill="#fff" />
<rect x="61.59" y="477.9" width="3.3" height="4.9" fill="#fff" />
<rect x="67.46" y="462.6" width="3.3" height="4.9" fill="#fff" />
<rect x="67.46" y="477.9" width="3.3" height="4.9" fill="#fff" />
<rect x="73.33" y="462.6" width="3.3" height="4.9" fill="#fff" />
<rect x="73.33" y="477.9" width="3.3" height="4.9" fill="#fff" />
<rect x="79.2" y="462.6" width="3.3" height="4.9" fill="#fff" />
<rect x="79.2" y="477.9" width="3.3" height="4.9" fill="#fff" />
<rect x="85.07" y="462.6" width="3.3" height="4.9" fill="#fff" />
<rect x="85.07" y="477.9" width="3.3" height="4.9" fill="#fff" />
<rect x="90.94" y="462.6" width="3.3" height="4.9" fill="#fff" />
<rect x="90.94" y="477.9" width="3.3" height="4.9" fill="#fff" />
<rect x="96.81" y="462.6" width="3.9" height="4.9" fill="#fff" />
<rect x="96.81" y="477.9" width="3.9" height="4.9" fill="#fff" />
<rect x="24.8" y="470.6" width="34.2" height="4.7" fill="#fff" />
<rect x="63.7" y="470.6" width="33.5" height="4.7" fill="#fff" />
<polygon points="18,470.95 19.8,471.55 19.8,474.35 18,474.95" fill="#fff" stroke="none" stroke-width="1" />
<rect x="18" y="487" width="84" height="24.7" fill="#000" />
<rect x="20.5" y="489" width="3.3" height="4.9" fill="#fff" />
<rect x="20.5" y="504.3" width="3.3" height="4.9" fill="#fff" />
<rect x="26.37" y="489" width="3.3" height="4.9" fill="#fff" />
<rect x="26.37" y="504.3" width="3.3" height="4.9" fill="#fff" />
<rect x="32.24" y="489" width="3.3" height="4.9" fill="#fff" />
<rect x="32.24" y="504.3" width="3.3" height="4.9" fill="#fff" />
<rect x="38.11" y="489" width="3.3" height="4.9" fill="#fff" />
<rect x="38.11" y="504.3" width="3.3" height="4.9" fill="#fff" />
<rect x="43.98" y="489" width="3.3" height="4.9" fill="#fff" />
<rect x="43.98" y="504.3" width="3.3" height="4.9" fill="#fff" />
<rect x="49.85" y="489" width="3.3" height="4.9" fill="#fff" />
<rect x="49.85" y="504.3" width="3.3" height="4.9" fill="#fff" />
<rect x="55.72" y="489" width="3.3" height="4.9" fill="#fff" />
<rect x="55.72" y="504.3" width="3.3" height="4.9" fill="#fff" />
<rect x="61.59" y="489" width="3.3" height="4.9" fill="#fff" />
<rect x="61.59" y="504.3" width="3.3" height="4.9" fill="#fff" />
<rect x="67.46" y="489" width="3.3" height="4.9" fill="#fff" />
<rect x="67.46" y="504.3" width="3.3" height="4.9" fill="#fff" />
<rect x="73.33" y="489" width="3.3" height="4.9" fill="#fff" />
<rect x="73.33" y="504.3" width="3.3" height="4.9" fill="#fff" />
<rect x="79.2" y="489" width="3.3" height="4.9" fill="#fff" />
<rect x="79.2" y="504.3" width="3.3" height="4.9" fill="#fff" />
<rect x="85.07" y="489" width="3.3" height="4.9" fill="#fff" />
<rect x="85.07" y="504.3" width="3.3" height="4.9" fill="#fff" />
<rect x="90.94" y="489" width="3.3" height="4.9" fill="#fff" />
<rect x="90.94" y="504.3" width="3.3" height="4.9" fill="#fff" />
<rect x="96.81" y="489" width="3.9" height="4.9" fill="#fff" />
<rect x="96.81" y="504.3" width="3.9" height="4.9" fill="#fff" />
<rect x="24.8" y="497" width="34.2" height="4.7" fill="#fff" />
<rect x="63.7" y="497" width="33.5" height="4.7" fill="#fff" />
<polygon points="18,497.35 19.8,497.95 19.8,500.75 18,501.35" fill="#fff" stroke="none" stroke-width="1" />
<rect x="111" y="426" width="84" height="25.5" fill="#000" />
<rect x="113.5" y="428" width="3.3" height="4.9" fill="#fff" />
<rect x="113.5" y="443.3" width="3.3" height="4.9" fill="#fff" />
<rect x="119.37" y="428" width="3.3" height="4.9" fill="#fff" />
<rect x="119.37" y="443.3" width="3.3" height="4.9" fill="#fff" />
<rect x="125.24" y="428" width="3.3" height="4.9" fill="#fff" />
<rect x="125.24" y="443.3" width="3.3" height="4.9" fill="#fff" />
<rect x="131.11" y="428" width="3.3" height="4.9" fill="#fff" />
<rect x="131.11" y="443.3" width="3.3" height="4.9" fill="#fff" />
<rect x="136.98" y="428" width="3.3" height="4.9" fill="#fff" />
<rect x="136.98" y="443.3" width="3.3" height="4.9" fill="#fff" />
<rect x="142.85" y="428" width="3.3" height="4.9" fill="#fff" />
<rect x="142.85" y="443.3" width="3.3" height="4.9" fill="#fff" />
<rect x="148.72" y="428" width="3.3" height="4.9" fill="#fff" />
<rect x="148.72" y="443.3" width="3.3" height="4.9" fill="#fff" />
<rect x="154.59" y="428" width="3.3" height="4.9" fill="#fff" />
<rect x="154.59" y="443.3" width="3.3" height="4.9" fill="#fff" />
<rect x="160.46" y="428" width="3.3" height="4.9" fill="#fff" />
<rect x="160.46" y="443.3" width="3.3" height="4.9" fill="#fff" />
<rect x="166.33" y="428" width="3.3" height="4.9" fill="#fff" />
<rect x="166.33" y="443.3" width="3.3" height="4.9" fill="#fff" />
<rect x="172.2" y="428" width="3.3" height="4.9" fill="#fff" />
<rect x="172.2" y="443.3" width="3.3" height="4.9" fill="#fff" />
<rect x="178.07" y="428" width="3.3" height="4.9" fill="#fff" />
<rect x="178.07" y="443.3" width="3.3" height="4.9" fill="#fff" />
<rect x="183.94" y="428" width="3.3" height="4.9" fill="#fff" />
<rect x="183.94" y="443.3" width="3.3" height="4.9" fill="#fff" />
<rect x="189.81" y="428" width="3.9" height="4.9" fill="#fff" />
<rect x="189.81" y="443.3" width="3.9" height="4.9" fill="#fff" />
<rect x="117.8" y="436" width="34.4" height="4.7" fill="#fff" />
<rect x="156.9" y="436" width="33.3" height="4.7" fill="#fff" />
<polygon points="111,436.35 112.8,436.95 112.8,439.75 111,440.35" fill="#fff" stroke="none" stroke-width="1" />
<rect x="111" y="452.5" width="84" height="24.3" fill="#000" />
<rect x="113.5" y="454.5" width="3.3" height="4.9" fill="#fff" />
<rect x="113.5" y="469.8" width="3.3" height="4.9" fill="#fff" />
<rect x="119.37" y="454.5" width="3.3" height="4.9" fill="#fff" />
<rect x="119.37" y="469.8" width="3.3" height="4.9" fill="#fff" />
<rect x="125.24" y="454.5" width="3.3" height="4.9" fill="#fff" />
<rect x="125.24" y="469.8" width="3.3" height="4.9" fill="#fff" />
<rect x="131.11" y="454.5" width="3.3" height="4.9" fill="#fff" />
<rect x="131.11" y="469.8" width="3.3" height="4.9" fill="#fff" />
<rect x="136.98" y="454.5" width="3.3" height="4.9" fill="#fff" />
<rect x="136.98" y="469.8" width="3.3" height="4.9" fill="#fff" />
<rect x="142.85" y="454.5" width="3.3" height="4.9" fill="#fff" />
<rect x="142.85" y="469.8" width="3.3" height="4.9" fill="#fff" />
<rect x="148.72" y="454.5" width="3.3" height="4.9" fill="#fff" />
<rect x="148.72" y="469.8" width="3.3" height="4.9" fill="#fff" />
<rect x="154.59" y="454.5" width="3.3" height="4.9" fill="#fff" />
<rect x="154.59" y="469.8" width="3.3" height="4.9" fill="#fff" />
<rect x="160.46" y="454.5" width="3.3" height="4.9" fill="#fff" />
<rect x="160.46" y="469.8" width="3.3" height="4.9" fill="#fff" />
<rect x="166.33" y="454.5" width="3.3" height="4.9" fill="#fff" />
<rect x="166.33" y="469.8" width="3.3" height="4.9" fill="#fff" />
<rect x="172.2" y="454.5" width="3.3" height="4.9" fill="#fff" />
<rect x="172.2" y="469.8" width="3.3" height="4.9" fill="#fff" />
<rect x="178.07" y="454.5" width="3.3" height="4.9" fill="#fff" />
<rect x="178.07" y="469.8" width="3.3" height="4.9" fill="#fff" />
<rect x="183.94" y="454.5" width="3.3" height="4.9" fill="#fff" />
<rect x="183.94" y="469.8" width="3.3" height="4.9" fill="#fff" />
<rect x="189.81" y="454.5" width="3.9" height="4.9" fill="#fff" />
<rect x="189.81" y="469.8" width="3.9" height="4.9" fill="#fff" />
<rect x="117.8" y="462.5" width="34.4" height="4.7" fill="#fff" />
<rect x="156.9" y="462.5" width="33.3" height="4.7" fill="#fff" />
<polygon points="111,462.85 112.8,463.45 112.8,466.25 111,466.85" fill="#fff" stroke="none" stroke-width="1" />
<rect x="111" y="478.8" width="84" height="24.1" fill="#000" />
<rect x="113.5" y="480.8" width="3.3" height="4.9" fill="#fff" />
<rect x="113.5" y="496.1" width="3.3" height="4.9" fill="#fff" />
<rect x="119.37" y="480.8" width="3.3" height="4.9" fill="#fff" />
<rect x="119.37" y="496.1" width="3.3" height="4.9" fill="#fff" />
<rect x="125.24" y="480.8" width="3.3" height="4.9" fill="#fff" />
<rect x="125.24" y="496.1" width="3.3" height="4.9" fill="#fff" />
<rect x="131.11" y="480.8" width="3.3" height="4.9" fill="#fff" />
<rect x="131.11" y="496.1" width="3.3" height="4.9" fill="#fff" />
<rect x="136.98" y="480.8" width="3.3" height="4.9" fill="#fff" />
<rect x="136.98" y="496.1" width="3.3" height="4.9" fill="#fff" />
<rect x="142.85" y="480.8" width="3.3" height="4.9" fill="#fff" />
<rect x="142.85" y="496.1" width="3.3" height="4.9" fill="#fff" />
<rect x="148.72" y="480.8" width="3.3" height="4.9" fill="#fff" />
<rect x="148.72" y="496.1" width="3.3" height="4.9" fill="#fff" />
<rect x="154.59" y="480.8" width="3.3" height="4.9" fill="#fff" />
<rect x="154.59" y="496.1" width="3.3" height="4.9" fill="#fff" />
<rect x="160.46" y="480.8" width="3.3" height="4.9" fill="#fff" />
<rect x="160.46" y="496.1" width="3.3" height="4.9" fill="#fff" />
<rect x="166.33" y="480.8" width="3.3" height="4.9" fill="#fff" />
<rect x="166.33" y="496.1" width="3.3" height="4.9" fill="#fff" />
<rect x="172.2" y="480.8" width="3.3" height="4.9" fill="#fff" />
<rect x="172.2" y="496.1" width="3.3" height="4.9" fill="#fff" />
<rect x="178.07" y="480.8" width="3.3" height="4.9" fill="#fff" />
<rect x="178.07" y="496.1" width="3.3" height="4.9" fill="#fff" />
<rect x="183.94" y="480.8" width="3.3" height="4.9" fill="#fff" />
<rect x="183.94" y="496.1" width="3.3" height="4.9" fill="#fff" />
<rect x="189.81" y="480.8" width="3.9" height="4.9" fill="#fff" />
<rect x="189.81" y="496.1" width="3.9" height="4.9" fill="#fff" />
<rect x="117.8" y="488.8" width="34.4" height="4.7" fill="#fff" />
<rect x="156.9" y="488.8" width="33.3" height="4.7" fill="#fff" />
<polygon points="111,489.15 112.8,489.75 112.8,492.55 111,493.15" fill="#fff" stroke="none" stroke-width="1" />
<rect x="111" y="504" width="84" height="24.7" fill="#000" />
<rect x="113.5" y="506" width="3.3" height="4.9" fill="#fff" />
<rect x="113.5" y="521.3" width="3.3" height="4.9" fill="#fff" />
<rect x="119.37" y="506" width="3.3" height="4.9" fill="#fff" />
<rect x="119.37" y="521.3" width="3.3" height="4.9" fill="#fff" />
<rect x="125.24" y="506" width="3.3" height="4.9" fill="#fff" />
<rect x="125.24" y="521.3" width="3.3" height="4.9" fill="#fff" />
<rect x="131.11" y="506" width="3.3" height="4.9" fill="#fff" />
<rect x="131.11" y="521.3" width="3.3" height="4.9" fill="#fff" />
<rect x="136.98" y="506" width="3.3" height="4.9" fill="#fff" />
<rect x="136.98" y="521.3" width="3.3" height="4.9" fill="#fff" />
<rect x="142.85" y="506" width="3.3" height="4.9" fill="#fff" />
<rect x="142.85" y="521.3" width="3.3" height="4.9" fill="#fff" />
<rect x="148.72" y="506" width="3.3" height="4.9" fill="#fff" />
<rect x="148.72" y="521.3" width="3.3" height="4.9" fill="#fff" />
<rect x="154.59" y="506" width="3.3" height="4.9" fill="#fff" />
<rect x="154.59" y="521.3" width="3.3" height="4.9" fill="#fff" />
<rect x="160.46" y="506" width="3.3" height="4.9" fill="#fff" />
<rect x="160.46" y="521.3" width="3.3" height="4.9" fill="#fff" />
<rect x="166.33" y="506" width="3.3" height="4.9" fill="#fff" />
<rect x="166.33" y="521.3" width="3.3" height="4.9" fill="#fff" />
<rect x="172.2" y="506" width="3.3" height="4.9" fill="#fff" />
<rect x="172.2" y="521.3" width="3.3" height="4.9" fill="#fff" />
<rect x="178.07" y="506" width="3.3" height="4.9" fill="#fff" />
<rect x="178.07" y="521.3" width="3.3" height="4.9" fill="#fff" />
<rect x="183.94" y="506" width="3.3" height="4.9" fill="#fff" />
<rect x="183.94" y="521.3" width="3.3" height="4.9" fill="#fff" />
<rect x="189.81" y="506" width="3.9" height="4.9" fill="#fff" />
<rect x="189.81" y="521.3" width="3.9" height="4.9" fill="#fff" />
<rect x="117.8" y="514" width="34.4" height="4.7" fill="#fff" />
<rect x="156.9" y="514" width="33.3" height="4.7" fill="#fff" />
<polygon points="111,514.35 112.8,514.95 112.8,517.75 111,518.35" fill="#fff" stroke="none" stroke-width="1" />
<rect x="92" y="385.1" width="30.2" height="15.7" rx="2" fill="#fff" stroke="#000" stroke-width="1.4"/>
<text transform="translate(93.8,396.8) scale(0.86,1)" font-size="12.5" textLength="28.4884" lengthAdjust="spacing" fill="#000">TAG</text>
<rect x="29.5" y="450.4" width="58.5" height="16.6" fill="#000" />
<rect x="30.9" y="451.6" width="55.5" height="14.3" fill="#fff" />
<text transform="translate(32,463) scale(0.86,1)" font-size="12.5" textLength="57.907" lengthAdjust="spacing" fill="#000">BANK 1</text>
<rect x="125.25" y="439.65" width="54.9" height="15.3" rx="3" fill="#fff" stroke="#000" stroke-width="1.3"/>
<text transform="translate(127.4,450.8) scale(0.86,1)" font-size="12.5" textLength="54.6512" lengthAdjust="spacing" fill="#000">BANK 0</text>
<rect x="21" y="237" width="6.6" height="13.6" fill="#000" />
<rect x="22" y="238" width="4.6" height="1.6" fill="#fff" />
<rect x="22" y="243.4" width="4.6" height="1.6" fill="#fff" />
<rect x="22" y="248.3" width="4.6" height="1.5" fill="#fff" />
<rect x="21" y="291" width="7" height="19" fill="#000" />
<rect x="22" y="296" width="5" height="2" fill="#fff" />
<rect x="22" y="302" width="5" height="2" fill="#fff" />
<rect x="23" y="304.8" width="3.2" height="2.4" fill="#fff" />
<rect x="24" y="305.6" width="1.2" height="0.9" fill="#888" />
<rect x="22" y="308" width="5" height="1.1" fill="#fff" />
<rect x="21" y="315" width="7" height="19" fill="#000" />
<rect x="22" y="320.8" width="5" height="1.2" fill="#fff" />
<rect x="22" y="326.8" width="5" height="1.2" fill="#fff" />
<rect x="23" y="328.5" width="3.2" height="2.7" fill="#fff" />
<rect x="24" y="329.3" width="1.2" height="1.2" fill="#888" />
<rect x="22" y="332" width="5" height="1.1" fill="#fff" />
<rect x="45" y="291" width="7" height="19" fill="#000" />
<rect x="46" y="296" width="5" height="2" fill="#fff" />
<rect x="46" y="302" width="5" height="2" fill="#fff" />
<rect x="47" y="304.8" width="3.2" height="2.4" fill="#fff" />
<rect x="48" y="305.6" width="1.2" height="0.9" fill="#888" />
<rect x="46" y="308" width="5" height="1.1" fill="#fff" />
<rect x="45" y="315" width="7" height="19" fill="#000" />
<rect x="46" y="320.8" width="5" height="1.2" fill="#fff" />
<rect x="46" y="326.8" width="5" height="1.2" fill="#fff" />
<rect x="47" y="328.5" width="3.2" height="2.7" fill="#fff" />
<rect x="48" y="329.3" width="1.2" height="1.2" fill="#888" />
<rect x="46" y="332" width="5" height="1.1" fill="#fff" />
<rect x="69" y="291" width="6.1" height="19" fill="#000" />
<rect x="70" y="296" width="4.1" height="2" fill="#fff" />
<rect x="70" y="302" width="4.1" height="1" fill="#fff" />
<rect x="71" y="303.8" width="2.3" height="3.4" fill="#fff" />
<rect x="72" y="304.6" width="0.3" height="1.9" fill="#888" />
<rect x="70" y="308" width="4.1" height="1" fill="#fff" />
<rect x="69" y="315" width="7" height="14" fill="#000" />
<rect x="70" y="316" width="5" height="1" fill="#fff" />
<rect x="70" y="320.8" width="5" height="1" fill="#fff" />
<rect x="70" y="327.3" width="5" height="1" fill="#fff" />
<rect x="74.1" y="316" width="1" height="12.3" fill="#fff" />
<rect x="567" y="499" width="7" height="13" fill="#000" />
<rect x="568" y="505" width="5" height="1.2" fill="#fff" />
<rect x="568" y="510" width="5" height="1.1" fill="#fff" />
<rect x="594" y="499" width="6" height="18.8" fill="#000" />
<rect x="595" y="500" width="4" height="1" fill="#fff" />
<rect x="595" y="505.3" width="4" height="1.6" fill="#fff" />
<rect x="595" y="511.1" width="4" height="1.8" fill="#fff" />
<rect x="595.8" y="502" width="2.3" height="2" fill="#fff" />
<rect x="596.5" y="502.6" width="0.9" height="0.8" fill="#888" />
<rect x="742" y="424" width="7.2" height="13" fill="#000" />
<rect x="743" y="425.4" width="5.2" height="1.8" fill="#fff" />
<rect x="743" y="430" width="5.2" height="1" fill="#fff" />
<rect x="67.8" y="43.8" width="26.2" height="7.2" fill="#000" />
<rect x="69" y="45" width="24" height="1.1" fill="#fff" />
<rect x="69" y="45" width="1.2" height="4.9" fill="#fff" />
<rect x="75" y="45" width="1.2" height="4.9" fill="#fff" />
<rect x="80.8" y="45" width="1.2" height="4.9" fill="#fff" />
<rect x="87.2" y="45" width="1.2" height="4.9" fill="#fff" />
<rect x="72" y="47.1" width="1.6" height="1.9" fill="#fff" />
<rect x="100" y="43.8" width="31.2" height="7.2" fill="#000" />
<rect x="100.9" y="45" width="1.1" height="4.9" fill="#fff" />
<rect x="103.35" y="46.05" width="2.6" height="2.8" rx="0" fill="#999" stroke="#fff" stroke-width="0.9"/>
<rect x="107" y="45" width="1" height="4.9" fill="#fff" />
<rect x="112" y="45" width="2" height="4.9" fill="#fff" />
<rect x="117.9" y="45" width="1.3" height="4.9" fill="#fff" />
<rect x="124" y="45" width="1.2" height="4.9" fill="#fff" />
<rect x="139" y="44" width="13" height="5" fill="#000" />
<rect x="144.9" y="45" width="1.3" height="3" fill="#fff" />
<rect x="149.9" y="45" width="1.1" height="3" fill="#fff" />
<rect x="163" y="43" width="14" height="7" fill="#000" />
<rect x="164" y="44" width="12" height="5" fill="#fff" />
<rect x="165" y="45" width="4.6" height="4" fill="#000" />
<rect x="170.6" y="45" width="4.4" height="4" fill="#000" />
<rect x="199" y="44" width="14" height="5.8" fill="#000" />
<rect x="200" y="45.2" width="1.2" height="3.6" fill="#fff" />
<rect x="205" y="45.2" width="1.2" height="3.6" fill="#fff" />
<rect x="211" y="45.2" width="1.2" height="3.6" fill="#fff" />
<rect x="713" y="359" width="26" height="6" fill="#000" />
<rect x="714" y="360" width="1" height="4" fill="#fff" />
<rect x="719" y="360" width="2" height="4" fill="#fff" />
<rect x="725" y="360" width="2" height="4" fill="#fff" />
<rect x="731" y="360" width="1" height="4" fill="#fff" />
<rect x="737" y="360" width="1" height="4" fill="#fff" />
<rect x="733" y="361" width="3" height="2" fill="#fff" />
<polygon points="756,396.5 780,396.5 780.8,399 782,400 782,405 780.6,406 780.6,414 781.5,415 781.5,420 780.6,421 780.6,429 782,430 782,433.5 780,436.5 757.5,436.5 754.6,433.5 754.6,430 755.6,429 755.6,421 754.6,420 754.6,415 755.6,414 755.6,406 754.6,405 754.6,399.5 755.8,398.5" fill="url(#ht)" stroke="#000" stroke-width="1.2" />
<rect x="757" y="451.6" width="26" height="37.2" fill="#000" />
<rect x="781.5" y="447.2" width="3.5" height="45.4" fill="#000" />
<rect x="784" y="445" width="4" height="50.2" fill="#000" />
<rect x="754.5" y="458.5" width="3" height="22.4" rx="0" fill="#fff" stroke="#000" stroke-width="1"/>
<rect x="750.5" y="460.5" width="4" height="7.6" rx="0" fill="#fff" stroke="#000" stroke-width="1"/>
<rect x="750.5" y="471.9" width="4" height="7.6" rx="0" fill="#fff" stroke="#000" stroke-width="1"/>
<rect x="755.3" y="461" width="1.9" height="1" fill="#000" />
<rect x="755.3" y="463" width="1.9" height="1" fill="#000" />
<rect x="755.3" y="465" width="1.9" height="1" fill="#000" />
<rect x="755.3" y="467" width="1.9" height="1" fill="#000" />
<rect x="755.3" y="473" width="1.9" height="1" fill="#000" />
<rect x="755.3" y="475" width="1.9" height="1" fill="#000" />
<rect x="755.3" y="477" width="1.9" height="1" fill="#000" />
<rect x="628.5" y="500.5" width="112.4" height="24" rx="0" fill="#fff" stroke="#000" stroke-width="1"/>
<rect x="628" y="507.8" width="113" height="1" fill="#000" />
<rect x="631.6" y="503" width="4.6" height="1.2" fill="#000" />
<rect x="630.4" y="503.8" width="7" height="2" fill="#000" />
<rect x="632" y="505.6" width="3.8" height="2.4" fill="#000" />
<rect x="630.3" y="510" width="7.2" height="3" rx="1" fill="#000"/>
<rect x="631.3" y="511" width="5.2" height="1" fill="#fff" />
<rect x="640.77" y="503" width="4.6" height="1.2" fill="#000" />
<rect x="639.57" y="503.8" width="7" height="2" fill="#000" />
<rect x="641.17" y="505.6" width="3.8" height="2.4" fill="#000" />
<rect x="639.47" y="510" width="7.2" height="3" rx="1" fill="#000"/>
<rect x="640.47" y="511" width="5.2" height="1" fill="#fff" />
<rect x="649.94" y="503" width="4.6" height="1.2" fill="#000" />
<rect x="648.74" y="503.8" width="7" height="2" fill="#000" />
<rect x="650.34" y="505.6" width="3.8" height="2.4" fill="#000" />
<rect x="648.64" y="510" width="7.2" height="3" rx="1" fill="#000"/>
<rect x="649.64" y="511" width="5.2" height="1" fill="#fff" />
<rect x="659.11" y="503" width="4.6" height="1.2" fill="#000" />
<rect x="657.91" y="503.8" width="7" height="2" fill="#000" />
<rect x="659.51" y="505.6" width="3.8" height="2.4" fill="#000" />
<rect x="657.81" y="510" width="7.2" height="3" rx="1" fill="#000"/>
<rect x="658.81" y="511" width="5.2" height="1" fill="#fff" />
<rect x="668.28" y="503" width="4.6" height="1.2" fill="#000" />
<rect x="667.08" y="503.8" width="7" height="2" fill="#000" />
<rect x="668.68" y="505.6" width="3.8" height="2.4" fill="#000" />
<rect x="666.98" y="510" width="7.2" height="3" rx="1" fill="#000"/>
<rect x="667.98" y="511" width="5.2" height="1" fill="#fff" />
<rect x="677.45" y="503" width="4.6" height="1.2" fill="#000" />
<rect x="676.25" y="503.8" width="7" height="2" fill="#000" />
<rect x="677.85" y="505.6" width="3.8" height="2.4" fill="#000" />
<rect x="676.15" y="510" width="7.2" height="3" rx="1" fill="#000"/>
<rect x="677.15" y="511" width="5.2" height="1" fill="#fff" />
<rect x="686.62" y="503" width="4.6" height="1.2" fill="#000" />
<rect x="685.42" y="503.8" width="7" height="2" fill="#000" />
<rect x="687.02" y="505.6" width="3.8" height="2.4" fill="#000" />
<rect x="685.32" y="510" width="7.2" height="3" rx="1" fill="#000"/>
<rect x="686.32" y="511" width="5.2" height="1" fill="#fff" />
<rect x="695.79" y="503" width="4.6" height="1.2" fill="#000" />
<rect x="694.59" y="503.8" width="7" height="2" fill="#000" />
<rect x="696.19" y="505.6" width="3.8" height="2.4" fill="#000" />
<rect x="694.49" y="510" width="7.2" height="3" rx="1" fill="#000"/>
<rect x="695.49" y="511" width="5.2" height="1" fill="#fff" />
<rect x="704.96" y="503" width="4.6" height="1.2" fill="#000" />
<rect x="703.76" y="503.8" width="7" height="2" fill="#000" />
<rect x="705.36" y="505.6" width="3.8" height="2.4" fill="#000" />
<rect x="703.66" y="510" width="7.2" height="3" rx="1" fill="#000"/>
<rect x="704.66" y="511" width="5.2" height="1" fill="#fff" />
<rect x="714.13" y="503" width="4.6" height="1.2" fill="#000" />
<rect x="712.93" y="503.8" width="7" height="2" fill="#000" />
<rect x="714.53" y="505.6" width="3.8" height="2.4" fill="#000" />
<rect x="712.83" y="510" width="7.2" height="3" rx="1" fill="#000"/>
<rect x="713.83" y="511" width="5.2" height="1" fill="#fff" />
<rect x="723.3" y="503" width="4.6" height="1.2" fill="#000" />
<rect x="722.1" y="503.8" width="7" height="2" fill="#000" />
<rect x="723.7" y="505.6" width="3.8" height="2.4" fill="#000" />
<rect x="722" y="510" width="7.2" height="3" rx="1" fill="#000"/>
<rect x="723" y="511" width="5.2" height="1" fill="#fff" />
<rect x="732.47" y="503" width="4.6" height="1.2" fill="#000" />
<rect x="731.27" y="503.8" width="7" height="2" fill="#000" />
<rect x="732.87" y="505.6" width="3.8" height="2.4" fill="#000" />
<rect x="731.17" y="510" width="7.2" height="3" rx="1" fill="#000"/>
<rect x="732.17" y="511" width="5.2" height="1" fill="#fff" />
<rect x="634.5" y="514.5" width="7" height="6" rx="0" fill="#fff" stroke="#000" stroke-width="1"/>
<rect x="644.6" y="514.5" width="6.6" height="6" rx="0" fill="#fff" stroke="#000" stroke-width="1"/>
<rect x="653.7" y="514.5" width="6.9" height="6" rx="0" fill="#fff" stroke="#000" stroke-width="1"/>
<rect x="662.8" y="514.5" width="6.7" height="6" rx="0" fill="#fff" stroke="#000" stroke-width="1"/>
<rect x="672.6" y="514.5" width="5.8" height="6" rx="0" fill="#fff" stroke="#000" stroke-width="1"/>
<rect x="681.7" y="514.5" width="5.8" height="6" rx="0" fill="#fff" stroke="#000" stroke-width="1"/>
<rect x="691" y="514.5" width="5.5" height="6" rx="0" fill="#fff" stroke="#000" stroke-width="1"/>
<rect x="699.7" y="514.5" width="6.6" height="6" rx="0" fill="#fff" stroke="#000" stroke-width="1"/>
<rect x="708.7" y="514.5" width="6.6" height="6" rx="0" fill="#fff" stroke="#000" stroke-width="1"/>
<rect x="717.7" y="514.5" width="6.6" height="6" rx="0" fill="#fff" stroke="#000" stroke-width="1"/>
<rect x="728.7" y="514.5" width="5.8" height="6" rx="0" fill="#fff" stroke="#000" stroke-width="1"/>
<rect x="627.5" y="514.6" width="3.5" height="5.6" fill="#fff" />
<rect x="630.6" y="514.6" width="1" height="5.6" fill="#000" />
<rect x="628" y="514.2" width="3.6" height="1" fill="#000" />
<rect x="628" y="519.8" width="3.6" height="1" fill="#000" />
<rect x="738.6" y="514.6" width="3.4" height="5.6" fill="#fff" />
<rect x="737.8" y="514.6" width="1" height="5.6" fill="#000" />
<rect x="737.8" y="514.2" width="3.6" height="1" fill="#000" />
<rect x="737.8" y="519.8" width="3.6" height="1" fill="#000" />
<rect x="629" y="516" width="1" height="1" fill="#000" />
<rect x="629" y="518" width="1" height="1" fill="#000" />
<rect x="739.5" y="516" width="1" height="1" fill="#000" />
<rect x="739.5" y="518" width="1" height="1" fill="#000" />
<rect x="213.7" y="458.5" width="47.6" height="26" rx="1" fill="#fff" stroke="#000" stroke-width="1.4"/>
<rect x="214" y="458.5" width="47" height="1.4" fill="#000" />
<circle cx="215.8" cy="460.8" r="1.3" fill="#fff" stroke="#000" stroke-width="0.7"/>
<circle cx="259.2" cy="460.8" r="1.3" fill="#fff" stroke="#000" stroke-width="0.7"/>
<circle cx="215.8" cy="482.2" r="1.3" fill="#fff" stroke="#000" stroke-width="0.7"/>
<circle cx="259.2" cy="482.2" r="1.3" fill="#fff" stroke="#000" stroke-width="0.7"/>
<rect x="67.1" y="9.2" width="31.7" height="16.5" rx="3" fill="#fff" stroke="#000" stroke-width="2.2"/>
<rect x="97" y="10.1" width="2.9" height="14.7" fill="#000" />
<rect x="68" y="8.1" width="29.9" height="2.9" fill="#000" />
<text transform="translate(71,21.2) scale(0.86,1)" font-size="12.5" textLength="23.8372" lengthAdjust="spacing" fill="#000">J24</text>
<polygon points="79.2,26 85.8,26 82.2,43.6" fill="#000" stroke="none" stroke-width="1" />
<polygon points="81.7,22.8 81.7,26 82.4273,30.2667 83.3,26 83.3,22.8" fill="#fff" stroke="none" stroke-width="1" />
<rect x="102.2" y="9.2" width="31.5" height="16.5" rx="3" fill="#fff" stroke="#000" stroke-width="2.2"/>
<rect x="132.2" y="10.1" width="2.6" height="14.7" fill="#000" />
<rect x="103.1" y="8.1" width="29.7" height="2.6" fill="#000" />
<text transform="translate(106,21.2) scale(0.86,1)" font-size="12.5" textLength="24.4186" lengthAdjust="spacing" fill="#000">J23</text>
<polygon points="113.9,26 121,26 117.1,43.6" fill="#000" stroke="none" stroke-width="1" />
<polygon points="116.4,22.8 116.4,26 117.346,31.2056 118.5,26 118.5,22.8" fill="#fff" stroke="none" stroke-width="1" />
<rect x="153.95" y="9.25" width="31.9" height="15.8" rx="1.5" fill="#fff" stroke="#000" stroke-width="1.9"/>
<text transform="translate(155.3,20) scale(0.86,1)" font-size="12.5" textLength="32.7907" lengthAdjust="spacing" fill="#000">SW2</text>
<polygon points="166.2,25.2 172.7,25.2 169.2,42.8" fill="#000" stroke="none" stroke-width="1" />
<polygon points="168.5,22 168.5,25.2 169.377,30.3446 170.4,25.2 170.4,22" fill="#fff" stroke="none" stroke-width="1" />
<rect x="191.3" y="7.9" width="31.3" height="16.7" rx="3" fill="#fff" stroke="#000" stroke-width="2.2"/>
<rect x="192.2" y="23" width="29.5" height="2.7" fill="#000" />
<rect x="221" y="8.8" width="2.7" height="14.9" fill="#000" />
<text transform="translate(193.6,20) scale(0.86,1)" font-size="12.5" textLength="25.3488" lengthAdjust="spacing" fill="#000">JP4</text>
<polygon points="203,24.6 209,24.6 205.9,42.3" fill="#000" stroke="none" stroke-width="1" />
<polygon points="205.5,21.4 205.5,24.6 205.983,27.55 206.5,24.6 206.5,21.4" fill="#fff" stroke="none" stroke-width="1" />
<polygon points="146,48.5 148.3,48.5 156.5,56 156.5,61 152.2,61 152.2,57.5 150,54" fill="#000" stroke="none" stroke-width="1" />
<polygon points="152.6,56.5 155.2,59 155.2,62 154.5,62" fill="#fff" stroke="none" stroke-width="1" />
<rect x="152.2" y="55.9" width="34.8" height="16.8" fill="#000" rx="2.5"/>
<rect x="152.2" y="60" width="34.8" height="12.7" fill="#000" />
<rect x="155" y="58.9" width="29.7" height="13.8" fill="#fff" />
<polygon points="152.8,56.6 155.4,59.2 155.4,61.5" fill="#fff" stroke="none" stroke-width="1" />
<text transform="translate(155.3,68.9) scale(0.86,1)" font-size="12.5" textLength="31.3953" lengthAdjust="spacing" fill="#000">SW1</text>
<rect x="32.2" y="213.1" width="31.7" height="16.6" rx="3" fill="#fff" stroke="#000" stroke-width="2.2"/>
<rect x="33.1" y="227.9" width="29.9" height="2.9" fill="#000" />
<rect x="62.1" y="214" width="2.9" height="14.8" fill="#000" />
<text transform="translate(35.3,224.9) scale(0.86,1)" font-size="12.5" textLength="25" lengthAdjust="spacing" fill="#000">JP3</text>
<polygon points="31.1,226.5 33.5,230.8 36.5,230.8 27.3,238 22.5,238 24.5,234" fill="#000" stroke="none" stroke-width="1" />
<polygon points="32.6,229.3 33.4,228.5 34,229.5 31.5,231.6" fill="#fff" stroke="none" stroke-width="1" />
<rect x="9.9" y="256.1" width="32" height="16.7" rx="3" fill="#fff" stroke="#000" stroke-width="2.2"/>
<rect x="40.1" y="257" width="2.9" height="14.9" fill="#000" />
<rect x="10.8" y="255" width="30.2" height="2.9" fill="#000" />
<text transform="translate(12.9,268) scale(0.86,1)" font-size="12.5" textLength="25.3488" lengthAdjust="spacing" fill="#000">JP7</text>
<polygon points="22,273 27.9,273 24.9,291.2" fill="#000" stroke="none" stroke-width="1" />
<polygon points="24.5,269.8 24.5,273 24.9424,275.776 25.4,273 25.4,269.8" fill="#fff" stroke="none" stroke-width="1" />
<rect x="59.1" y="271.1" width="32.5" height="16.6" rx="3" fill="#fff" stroke="#000" stroke-width="2.2"/>
<rect x="60" y="285.9" width="30.7" height="2.9" fill="#000" />
<rect x="89.8" y="272" width="2.9" height="14.8" fill="#000" />
<text transform="translate(63.2,282.9) scale(0.86,1)" font-size="12.5" textLength="25" lengthAdjust="spacing" fill="#000">JP6</text>
<polygon points="58,284.5 60,288.8 64,288.8 53,296.5 51.5,292" fill="#000" stroke="none" stroke-width="1" />
<polygon points="59.4,287.3 60.2,286.5 60.8,287.5 57.5,290.2" fill="#fff" stroke="none" stroke-width="1" />
<rect x="92.1" y="292.1" width="33.8" height="16.8" rx="3" fill="#fff" stroke="#000" stroke-width="2.2"/>
<rect x="93" y="307.5" width="32" height="2.5" fill="#000" />
<rect x="124.5" y="293" width="2.5" height="15" fill="#000" />
<rect x="93" y="291" width="32" height="2.5" fill="#000" />
<text transform="translate(96.5,304) scale(0.86,1)" font-size="12.5" textLength="25.9302" lengthAdjust="spacing" fill="#000">JP5</text>
<polygon points="92.5,297 92.5,303.6 76.1,300.7" fill="#000" stroke="none" stroke-width="1" />
<polygon points="95.7,299.1 92.5,299.1 86.5364,300.445 92.5,301.5 95.7,301.5" fill="#fff" stroke="none" stroke-width="1" />
<rect x="92.1" y="313" width="33.8" height="16.6" rx="3" fill="#fff" stroke="#000" stroke-width="2.2"/>
<rect x="124.5" y="313.9" width="2.5" height="14.8" fill="#000" />
<rect x="93" y="311.9" width="32" height="2.5" fill="#000" />
<text transform="translate(96.5,325) scale(0.86,1)" font-size="12.5" textLength="25.9302" lengthAdjust="spacing" fill="#000">JP8</text>
<polygon points="92.5,318 92.5,324.6 76,321.4" fill="#000" stroke="none" stroke-width="1" />
<polygon points="95.7,320.1 92.5,320.1 86.5,321.336 92.5,322.5 95.7,322.5" fill="#fff" stroke="none" stroke-width="1" />
<rect x="56.1" y="341.8" width="32.8" height="16.7" rx="3" fill="#fff" stroke="#000" stroke-width="2.2"/>
<rect x="57" y="356.7" width="31" height="2.9" fill="#000" />
<rect x="87.1" y="342.7" width="2.9" height="14.9" fill="#000" />
<text transform="translate(59.1,354) scale(0.86,1)" font-size="12.5" textLength="25.9302" lengthAdjust="spacing" fill="#000">JP9</text>
<polygon points="47.6,333.5 50.6,333.5 59.5,341 59.5,345 55,345 55,342.5" fill="#000" stroke="none" stroke-width="1" />
<polygon points="54.5,340.2 56.8,342.4 57.4,344 56.6,344" fill="#fff" stroke="none" stroke-width="1" />
<rect x="8.1" y="353.5" width="40.7" height="15.8" rx="3" fill="#fff" stroke="#000" stroke-width="1.8"/>
<rect x="47.5" y="354.6" width="2.2" height="13.6" fill="#000" />
<rect x="9.2" y="352.6" width="38.5" height="2.2" fill="#000" />
<text transform="translate(12.8,366) scale(0.86,1)" font-size="12.5" textLength="33.1395" lengthAdjust="spacing" fill="#000">JP10</text>
<polygon points="22.9,353.6 29.1,353.6 24.7,334.8" fill="#000" stroke="none" stroke-width="1" />
<polygon points="25,356.8 25,353.6 25.5806,347.535 27,353.6 27,356.8" fill="#fff" stroke="none" stroke-width="1" />
<rect x="222.1" y="420.1" width="31.8" height="16.8" rx="3" fill="#fff" stroke="#000" stroke-width="2.2"/>
<rect x="252.1" y="421" width="2.9" height="15" fill="#000" />
<rect x="223" y="419" width="30" height="2.9" fill="#000" />
<text transform="translate(226,432.2) scale(0.86,1)" font-size="12.5" textLength="28.4884" lengthAdjust="spacing" fill="#000">CR1</text>
<polygon points="233.8,437.2 240.8,437.2 236.9,455" fill="#000" stroke="none" stroke-width="1" />
<polygon points="236.3,434 236.3,437.2 237.186,442.286 238.3,437.2 238.3,434" fill="#fff" stroke="none" stroke-width="1" />
<rect x="515.3" y="498.1" width="33.8" height="15.8" rx="3" fill="#fff" stroke="#000" stroke-width="1.8"/>
<rect x="516.4" y="512.4" width="31.6" height="2.4" fill="#000" />
<rect x="514.4" y="499.2" width="2.4" height="13.6" fill="#000" />
<text transform="translate(520.5,510.2) scale(0.86,1)" font-size="12.5" textLength="25.5814" lengthAdjust="spacing" fill="#000">JP1</text>
<polygon points="549.2,503 549.2,508.6 565.5,505.8" fill="#000" stroke="none" stroke-width="1" />
<polygon points="546,505.1 549.2,505.1 553.275,505.8 549.2,506.5 546,506.5" fill="#fff" stroke="none" stroke-width="1" />
<rect x="551.05" y="523.25" width="33.4" height="16.5" rx="3" fill="#fff" stroke="#000" stroke-width="2.1"/>
<rect x="582.8" y="524.2" width="2.7" height="14.6" fill="#000" />
<rect x="550" y="524.2" width="2.7" height="14.6" fill="#000" />
<text transform="translate(555.6,534.9) scale(0.86,1)" font-size="12.5" textLength="25.5814" lengthAdjust="spacing" fill="#000">JP2</text>
<polygon points="579,522.2 590.3,514.8 592.8,517.4 585.5,527.5 583,525" fill="#000" stroke="none" stroke-width="1" />
<polygon points="581.5,523.8 583.5,525.7 585.5,523.2 584.4,522" fill="#fff" stroke="none" stroke-width="1" />
<rect x="700" y="423" width="24" height="16.3" rx="3" fill="#fff" stroke="#000" stroke-width="2"/>
<rect x="701" y="437.5" width="22" height="2.8" fill="#000" />
<text transform="translate(704.8,434.9) scale(0.86,1)" font-size="12.5" textLength="14.5349" lengthAdjust="spacing" fill="#000">J3</text>
<polygon points="724.2,428 724.2,434.4 739.9,430.9" fill="#000" stroke="none" stroke-width="1" />
<polygon points="721,430.5 724.2,430.5 727.634,431.134 724.2,431.9 721,431.9" fill="#fff" stroke="none" stroke-width="1" />
<rect x="711.05" y="384.55" width="31.5" height="16.4" rx="3" fill="#fff" stroke="#000" stroke-width="2.1"/>
<rect x="741.1" y="385.5" width="2.5" height="14.5" fill="#000" />
<text transform="translate(716,396.9) scale(0.86,1)" font-size="12.5" textLength="22.6744" lengthAdjust="spacing" fill="#000">J10</text>
<polygon points="724.4,384.3 730.8,384.3 727.5,367" fill="#000" stroke="none" stroke-width="1" />
<polygon points="726.9,387.5 726.9,384.3 727.578,380.516 728.3,384.3 728.3,387.5" fill="#fff" stroke="none" stroke-width="1" />
<text transform="translate(645.24,60) scale(0.736,1)" font-size="12.6">M</text>
<text transform="translate(655.27,60) scale(0.710,1)" font-size="12.6">H</text>
<text transform="translate(662.49,60) scale(0.830,1)" font-size="12.6">0</text>
<text transform="translate(669.69,60) scale(0.830,1)" font-size="12.6">0</text>
<text transform="translate(674.93,60) scale(0.699,1)" font-size="12.6">1</text>
<text transform="translate(682.77,60) scale(0.821,1)" font-size="12.6">7</text>
</svg></body></html>
